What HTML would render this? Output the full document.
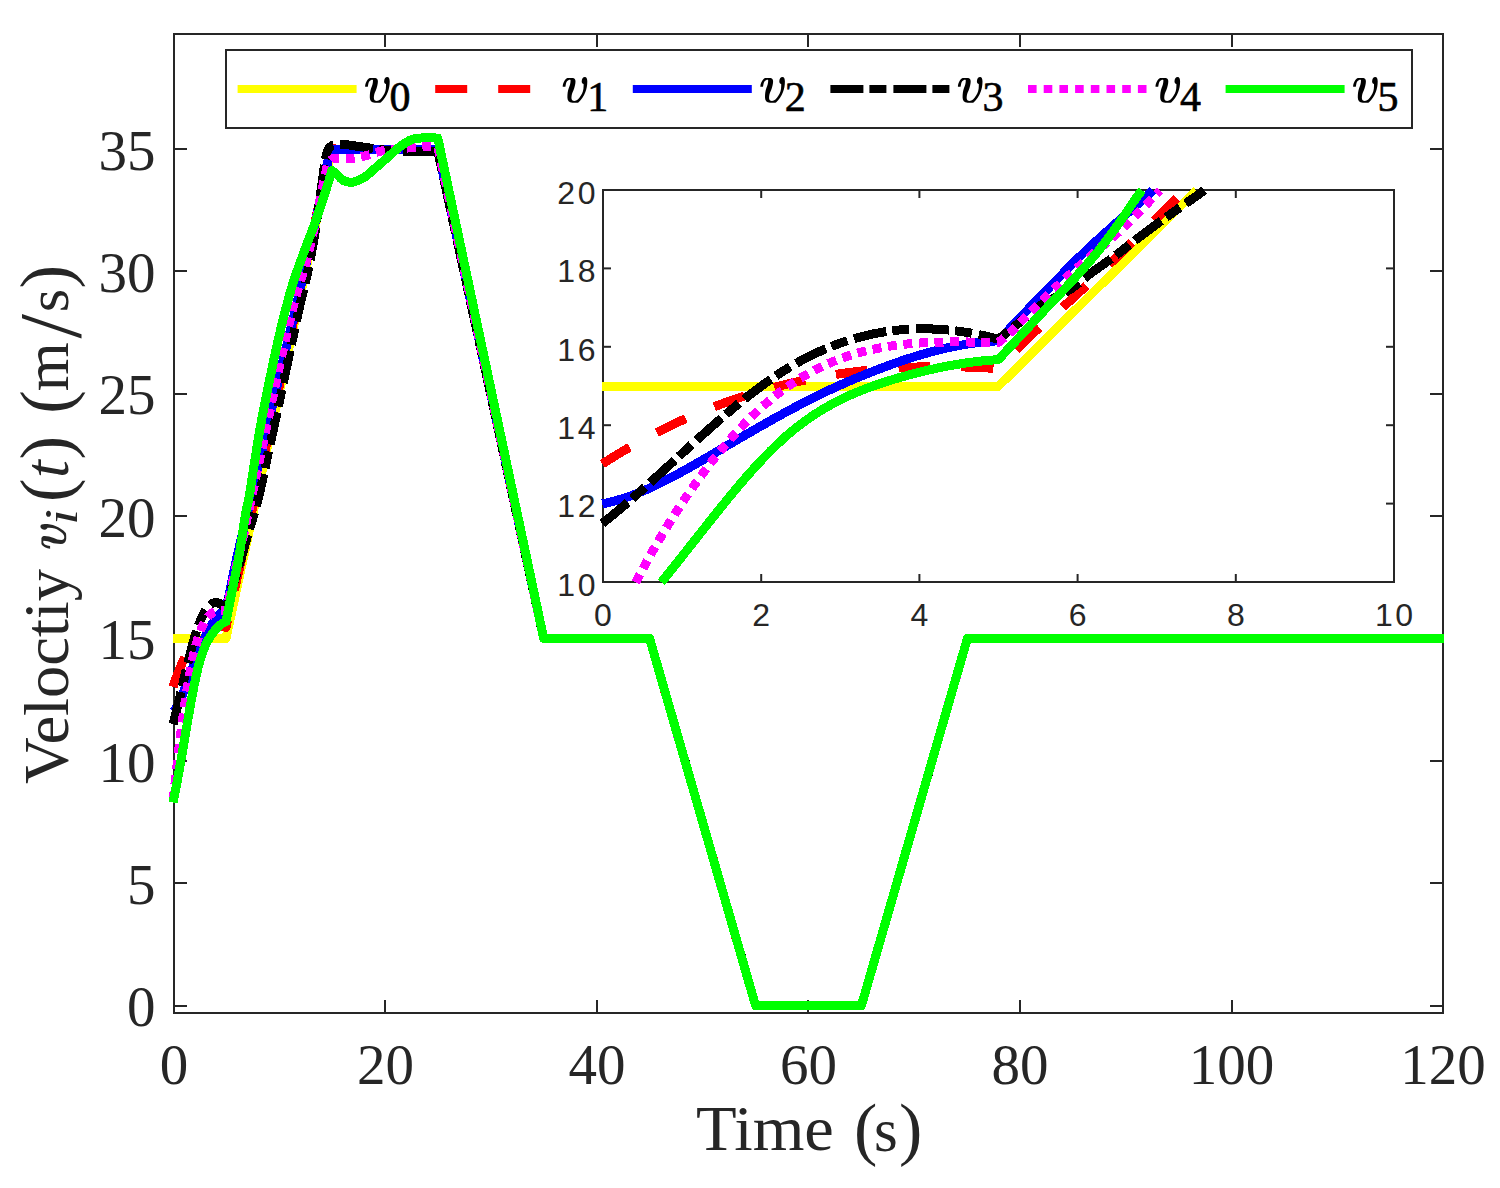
<!DOCTYPE html><html><head><meta charset="utf-8"><title>Velocity plot</title><style>html,body{margin:0;padding:0;background:#fff;}svg{display:block;}</style></head><body>
<svg width="1500" height="1188" viewBox="0 0 1500 1188">
<rect width="1500" height="1188" fill="#ffffff"/>
<g stroke="#262626" stroke-width="2" fill="none"><rect x="174" y="34" width="1269" height="979" fill="none" stroke="#262626" stroke-width="2"/>
<line x1="174.00" y1="1013" x2="174.00" y2="1000"/>
<line x1="174.00" y1="34" x2="174.00" y2="47"/>
<line x1="385.00" y1="1013" x2="385.00" y2="1000"/>
<line x1="385.00" y1="34" x2="385.00" y2="47"/>
<line x1="597.00" y1="1013" x2="597.00" y2="1000"/>
<line x1="597.00" y1="34" x2="597.00" y2="47"/>
<line x1="808.00" y1="1013" x2="808.00" y2="1000"/>
<line x1="808.00" y1="34" x2="808.00" y2="47"/>
<line x1="1020.00" y1="1013" x2="1020.00" y2="1000"/>
<line x1="1020.00" y1="34" x2="1020.00" y2="47"/>
<line x1="1232.00" y1="1013" x2="1232.00" y2="1000"/>
<line x1="1232.00" y1="34" x2="1232.00" y2="47"/>
<line x1="1443.00" y1="1013" x2="1443.00" y2="1000"/>
<line x1="1443.00" y1="34" x2="1443.00" y2="47"/>
<line x1="174" y1="1006.00" x2="187" y2="1006.00"/>
<line x1="1443" y1="1006.00" x2="1430" y2="1006.00"/>
<line x1="174" y1="883.00" x2="187" y2="883.00"/>
<line x1="1443" y1="883.00" x2="1430" y2="883.00"/>
<line x1="174" y1="761.00" x2="187" y2="761.00"/>
<line x1="1443" y1="761.00" x2="1430" y2="761.00"/>
<line x1="174" y1="638.00" x2="187" y2="638.00"/>
<line x1="1443" y1="638.00" x2="1430" y2="638.00"/>
<line x1="174" y1="516.00" x2="187" y2="516.00"/>
<line x1="1443" y1="516.00" x2="1430" y2="516.00"/>
<line x1="174" y1="394.00" x2="187" y2="394.00"/>
<line x1="1443" y1="394.00" x2="1430" y2="394.00"/>
<line x1="174" y1="271.00" x2="187" y2="271.00"/>
<line x1="1443" y1="271.00" x2="1430" y2="271.00"/>
<line x1="174" y1="149.00" x2="187" y2="149.00"/>
<line x1="1443" y1="149.00" x2="1430" y2="149.00"/></g>
<path d="M173.00 638.50 L225.96 638.50 L331.88 149.16 L437.79 149.16 L543.71 638.50 L649.62 638.50 L755.54 1005.50 L861.46 1005.50 L967.38 638.50 L1444.00 638.50" fill="none" stroke="#ffff00" stroke-width="9" stroke-linejoin="round" stroke-linecap="butt" shape-rendering="crispEdges"/>
<path d="M173.00 686.94 L173.21 686.31 L173.42 685.68 L173.64 685.05 L173.85 684.43 L174.06 683.81 L174.27 683.19 L174.48 682.58 L174.69 681.98 L174.91 681.37 L175.12 680.78 L175.33 680.18 L175.54 679.59 L175.75 679.00 L175.97 678.42 L176.18 677.84 L176.39 677.26 L176.60 676.69 L176.81 676.12 L177.02 675.56 L177.24 674.99 L177.45 674.44 L177.66 673.88 L177.87 673.33 L178.08 672.79 L178.30 672.24 L178.51 671.71 L178.72 671.17 L178.93 670.64 L179.14 670.11 L179.35 669.59 L179.57 669.07 L179.78 668.55 L179.99 668.04 L180.20 667.53 L180.41 667.02 L180.63 666.52 L180.84 666.02 L181.05 665.53 L181.26 665.04 L181.47 664.55 L181.69 664.06 L181.90 663.58 L182.11 663.11 L182.32 662.63 L182.53 662.16 L182.74 661.70 L182.96 661.23 L183.17 660.77 L183.38 660.32 L183.59 659.86 L183.80 659.42 L184.02 658.97 L184.23 658.53 L184.44 658.09 L184.65 657.65 L184.86 657.22 L185.07 656.79 L185.29 656.37 L185.50 655.95 L185.71 655.53 L185.92 655.11 L186.13 654.70 L186.35 654.30 L186.56 653.89 L186.77 653.49 L186.98 653.09 L187.19 652.70 L187.40 652.31 L187.62 651.92 L187.83 651.53 L188.04 651.15 L188.25 650.77 L188.46 650.40 L188.68 650.03 L188.89 649.66 L189.10 649.30 L189.31 648.93 L189.52 648.58 L189.73 648.22 L189.95 647.87 L190.16 647.52 L190.37 647.17 L190.58 646.83 L190.79 646.49 L191.01 646.16 L191.22 645.82 L191.43 645.49 L191.64 645.17 L191.85 644.84 L192.06 644.52 L192.28 644.21 L192.49 643.89 L192.70 643.58 L192.91 643.27 L193.12 642.97 L193.34 642.67 L193.55 642.37 L193.76 642.07 L193.97 641.78 L194.18 641.49 L194.40 641.21 L194.61 640.92 L194.82 640.64 L195.03 640.37 L195.24 640.09 L195.45 639.82 L195.67 639.55 L195.88 639.29 L196.09 639.02 L196.30 638.76 L196.51 638.51 L196.73 638.25 L196.94 638.00 L197.15 637.76 L197.36 637.51 L197.57 637.27 L197.78 637.03 L198.00 636.80 L198.21 636.56 L198.42 636.33 L198.63 636.10 L198.84 635.88 L199.06 635.66 L199.27 635.44 L199.48 635.22 L199.69 635.01 L199.90 634.80 L200.11 634.59 L200.33 634.39 L200.54 634.18 L200.75 633.99 L200.96 633.79 L201.17 633.59 L201.39 633.40 L201.60 633.22 L201.81 633.03 L202.02 632.85 L202.23 632.67 L202.44 632.49 L202.66 632.31 L202.87 632.14 L203.08 631.97 L203.29 631.81 L203.50 631.64 L203.72 631.48 L203.93 631.32 L204.14 631.17 L204.35 631.01 L204.56 630.86 L204.78 630.71 L204.99 630.57 L205.20 630.42 L205.41 630.28 L205.62 630.14 L205.83 630.01 L206.05 629.88 L206.26 629.75 L206.47 629.62 L206.68 629.49 L206.89 629.37 L207.11 629.25 L207.32 629.13 L207.53 629.02 L207.74 628.90 L207.95 628.79 L208.16 628.68 L208.38 628.58 L208.59 628.48 L208.80 628.38 L209.01 628.28 L209.22 628.18 L209.44 628.09 L209.65 628.00 L209.86 627.91 L210.07 627.82 L210.28 627.74 L210.49 627.66 L210.71 627.58 L210.92 627.50 L211.13 627.43 L211.34 627.35 L211.55 627.28 L211.77 627.22 L211.98 627.15 L212.19 627.09 L212.40 627.03 L212.61 626.97 L212.82 626.91 L213.04 626.86 L213.25 626.81 L213.46 626.76 L213.67 626.71 L213.88 626.67 L214.10 626.62 L214.31 626.58 L214.52 626.54 L214.73 626.51 L214.94 626.47 L215.15 626.44 L215.37 626.41 L215.58 626.39 L215.79 626.36 L216.00 626.34 L216.21 626.32 L216.43 626.30 L216.64 626.28 L216.85 626.27 L217.06 626.25 L217.27 626.24 L217.49 626.23 L217.70 626.23 L217.91 626.22 L218.12 626.22 L218.33 626.22 L218.54 626.22 L218.76 626.23 L218.97 626.23 L219.18 626.24 L219.39 626.25 L219.60 626.26 L219.82 626.27 L220.03 626.29 L220.24 626.31 L220.45 626.33 L220.66 626.35 L220.87 626.37 L221.09 626.40 L221.30 626.42 L221.51 626.45 L221.72 626.48 L221.93 626.52 L222.15 626.55 L222.36 626.59 L222.57 626.63 L222.78 626.67 L222.99 626.71 L223.20 626.75 L223.42 626.80 L223.63 626.84 L223.84 626.89 L224.05 626.95 L224.26 627.00 L224.48 627.05 L224.69 627.11 L224.90 627.17 L225.11 627.23 L225.32 627.29 L225.53 627.35 L225.75 627.42 L225.96 627.48 L226.17 626.41 L226.38 625.35 L226.59 624.29 L226.81 623.23 L227.02 622.18 L227.23 621.13 L227.44 620.09 L227.65 619.06 L227.86 618.04 L228.08 617.02 L228.29 616.00 L228.50 615.00 L228.71 614.00 L228.92 613.01 L229.14 612.03 L229.35 611.05 L229.56 610.09 L229.77 609.13 L229.98 608.19 L230.19 607.25 L230.41 606.33 L230.62 605.41 L230.83 604.50 L231.04 603.60 L231.25 602.71 L231.47 601.82 L231.68 600.94 L231.89 600.07 L232.10 599.20 L232.31 598.33 L232.53 597.46 L232.74 596.60 L232.95 595.74 L233.16 594.88 L233.37 594.02 L233.58 593.17 L233.80 592.31 L234.01 591.45 L234.22 590.58 L234.43 589.72 L234.64 588.85 L234.86 587.97 L235.07 587.09 L235.28 586.21 L235.49 585.32 L235.70 584.42 L235.91 583.52 L236.13 582.62 L236.34 581.72 L236.55 580.81 L236.76 579.90 L236.97 579.00 L237.19 578.09 L237.40 577.18 L237.61 576.26 L237.82 575.35 L238.03 574.43 L238.24 573.52 L238.46 572.60 L238.67 571.68 L238.88 570.76 L239.09 569.83 L239.30 568.91 L239.52 567.98 L239.73 567.05 L239.94 566.12 L240.15 565.19 L240.36 564.26 L240.57 563.32 L240.79 562.38 L241.00 561.44 L241.21 560.50 L241.42 559.56 L241.63 558.61 L241.85 557.66 L242.06 556.72 L242.27 555.76 L242.48 554.81 L242.69 553.86 L242.91 552.90 L243.12 551.94 L243.33 550.98 L243.54 550.02 L243.75 549.06 L243.96 548.10 L244.18 547.13 L244.39 546.17 L244.60 545.20 L244.81 544.23 L245.02 543.26 L245.24 542.29 L245.45 541.32 L245.66 540.35 L245.87 539.38 L246.08 538.40 L246.29 537.43 L246.51 536.45 L246.72 535.48 L246.93 534.50 L247.14 533.53 L247.35 532.55 L247.57 531.57 L247.78 530.59 L247.99 529.62 L248.20 528.64 L248.41 527.66 L248.62 526.67 L248.84 525.68 L249.05 524.70 L249.26 523.71 L249.47 522.71 L249.68 521.72 L249.90 520.73 L250.11 519.73 L250.32 518.74 L250.53 517.74 L250.74 516.75 L250.95 515.75 L251.17 514.76 L251.38 513.77 L251.59 512.77 L251.80 511.78 L252.01 510.79 L252.23 509.81 L252.44 508.82 L252.65 507.84 L252.86 506.85 L253.07 505.87 L253.28 504.89 L253.50 503.90 L253.71 502.92 L253.92 501.94 L254.13 500.96 L254.34 499.98 L254.56 499.00 L254.77 498.02 L254.98 497.04 L255.19 496.06 L255.40 495.09 L255.62 494.11 L255.83 493.13 L256.04 492.15 L256.25 491.18 L256.46 490.20 L256.67 489.23 L256.89 488.25 L257.10 487.28 L257.31 486.30 L257.52 485.33 L257.73 484.35 L257.95 483.38 L258.16 482.41 L258.37 481.43 L258.58 480.46 L258.79 479.49 L259.00 478.52 L259.22 477.54 L259.43 476.57 L259.64 475.60 L259.85 474.63 L260.06 473.66 L260.28 472.69 L260.49 471.72 L260.70 470.75 L260.91 469.78 L261.12 468.81 L261.33 467.84 L261.55 466.87 L261.76 465.90 L261.97 464.93 L262.18 463.96 L262.39 462.99 L262.61 462.03 L262.82 461.06 L263.03 460.09 L263.24 459.12 L263.45 458.15 L263.66 457.19 L263.88 456.22 L264.09 455.25 L264.30 454.29 L264.51 453.32 L264.72 452.35 L264.94 451.39 L265.15 450.42 L265.36 449.45 L265.57 448.49 L265.78 447.52 L265.99 446.56 L266.21 445.59 L266.42 444.62 L266.63 443.66 L266.84 442.69 L267.05 441.73 L267.27 440.76 L267.48 439.80 L267.69 438.83 L267.90 437.87 L268.11 436.90 L268.32 435.94 L268.54 434.97 L268.75 434.01 L268.96 433.05 L269.17 432.08 L269.38 431.12 L269.60 430.15 L269.81 429.19 L270.02 428.22 L270.23 427.26 L270.44 426.30 L270.66 425.33 L270.87 424.37 L271.08 423.40 L271.29 422.44 L271.50 421.48 L271.71 420.51 L271.93 419.55 L272.14 418.58 L272.35 417.62 L272.56 416.66 L272.77 415.69 L272.99 414.73 L273.20 413.76 L273.41 412.80 L273.62 411.84 L273.83 410.87 L274.04 409.91 L274.26 408.94 L274.47 407.98 L274.68 407.01 L274.89 406.05 L275.10 405.08 L275.32 404.12 L275.53 403.16 L275.74 402.19 L275.95 401.23 L276.16 400.26 L276.37 399.30 L276.59 398.33 L276.80 397.37 L277.01 396.40 L277.22 395.44 L277.43 394.47 L277.65 393.50 L277.86 392.54 L278.07 391.57 L278.28 390.61 L278.49 389.64 L278.70 388.67 L278.92 387.71 L279.13 386.74 L279.34 385.78 L279.55 384.81 L279.76 383.84 L279.98 382.88 L280.19 381.91 L280.40 380.95 L280.61 379.98 L280.82 379.01 L281.03 378.05 L281.25 377.08 L281.46 376.12 L281.67 375.15 L281.88 374.19 L282.09 373.22 L282.31 372.26 L282.52 371.29 L282.73 370.33 L282.94 369.36 L283.15 368.40 L283.37 367.44 L283.58 366.47 L283.79 365.51 L284.00 364.54 L284.21 363.58 L284.42 362.61 L284.64 361.65 L284.85 360.68 L285.06 359.72 L285.27 358.75 L285.48 357.79 L285.70 356.83 L285.91 355.86 L286.12 354.90 L286.33 353.93 L286.54 352.97 L286.75 352.00 L286.97 351.04 L287.18 350.08 L287.39 349.11 L287.60 348.15 L287.81 347.18 L288.03 346.22 L288.24 345.25 L288.45 344.29 L288.66 343.32 L288.87 342.36 L289.08 341.40 L289.30 340.43 L289.51 339.47 L289.72 338.50 L289.93 337.54 L290.14 336.57 L290.36 335.61 L290.57 334.64 L290.78 333.68 L290.99 332.71 L291.20 331.74 L291.41 330.78 L291.63 329.81 L291.84 328.85 L292.05 327.88 L292.26 326.92 L292.47 325.95 L292.69 324.98 L292.90 324.02 L293.11 323.05 L293.32 322.08 L293.53 321.12 L293.75 320.15 L293.96 319.18 L294.17 318.22 L294.38 317.25 L294.59 316.28 L294.80 315.31 L295.02 314.35 L295.23 313.38 L295.44 312.41 L295.65 311.44 L295.86 310.47 L296.08 309.51 L296.29 308.54 L296.50 307.57 L296.71 306.60 L296.92 305.63 L297.13 304.66 L297.35 303.69 L297.56 302.72 L297.77 301.75 L297.98 300.78 L298.19 299.81 L298.41 298.84 L298.62 297.87 L298.83 296.90 L299.04 295.92 L299.25 294.95 L299.46 293.98 L299.68 293.01 L299.89 292.04 L300.10 291.06 L300.31 290.09 L300.52 289.12 L300.74 288.14 L300.95 287.17 L301.16 286.20 L301.37 285.22 L301.58 284.25 L301.79 283.27 L302.01 282.30 L302.22 281.32 L302.43 280.35 L302.64 279.37 L302.85 278.39 L303.07 277.42 L303.28 276.44 L303.49 275.46 L303.70 274.49 L303.91 273.51 L304.12 272.53 L304.34 271.55 L304.55 270.58 L304.76 269.60 L304.97 268.62 L305.18 267.64 L305.40 266.66 L305.61 265.68 L305.82 264.70 L306.03 263.73 L306.24 262.75 L306.46 261.77 L306.67 260.79 L306.88 259.81 L307.09 258.83 L307.30 257.85 L307.51 256.87 L307.73 255.89 L307.94 254.91 L308.15 253.93 L308.36 252.95 L308.57 251.97 L308.79 250.99 L309.00 250.01 L309.21 249.03 L309.42 248.05 L309.63 247.07 L309.84 246.08 L310.06 245.10 L310.27 244.12 L310.48 243.14 L310.69 242.16 L310.90 241.18 L311.12 240.20 L311.33 239.22 L311.54 238.24 L311.75 237.26 L311.96 236.28 L312.17 235.30 L312.39 234.32 L312.60 233.34 L312.81 232.36 L313.02 231.38 L313.23 230.40 L313.45 229.42 L313.66 228.44 L313.87 227.46 L314.08 226.48 L314.29 225.50 L314.50 224.52 L314.72 223.54 L314.93 222.56 L315.14 221.58 L315.35 220.60 L315.56 219.62 L315.78 218.64 L315.99 217.66 L316.20 216.69 L316.41 215.71 L316.62 214.75 L316.83 213.78 L317.05 212.82 L317.26 211.86 L317.47 210.91 L317.68 209.95 L317.89 209.00 L318.11 208.05 L318.32 207.10 L318.53 206.16 L318.74 205.21 L318.95 204.26 L319.17 203.31 L319.38 202.37 L319.59 201.42 L319.80 200.47 L320.01 199.51 L320.22 198.56 L320.44 197.60 L320.65 196.64 L320.86 195.68 L321.07 194.72 L321.28 193.75 L321.50 192.77 L321.71 191.80 L321.92 190.81 L322.13 189.82 L322.34 188.83 L322.55 187.83 L322.77 186.83 L322.98 185.81 L323.19 184.80 L323.40 183.77 L323.61 182.74 L323.83 181.69 L324.04 180.64 L324.25 179.58 L324.46 178.52 L324.67 177.41 L324.88 176.26 L325.10 175.06 L325.31 173.82 L325.52 172.55 L325.73 171.25 L325.94 169.95 L326.16 168.64 L326.37 167.32 L326.58 166.02 L326.79 164.74 L327.00 163.48 L327.21 162.26 L327.43 161.07 L327.64 159.94 L327.85 158.86 L328.06 157.84 L328.27 156.90 L328.49 156.04 L328.70 155.27 L328.91 154.53 L329.12 153.78 L329.33 153.02 L329.54 152.28 L329.76 151.56 L329.97 150.88 L330.18 150.25 L330.39 149.69 L330.60 149.22 L330.82 148.84 L331.03 148.58 L331.24 148.44 L331.45 148.42 L331.66 148.43 L331.88 148.44 L332.09 148.45 L332.30 148.47 L332.51 148.49 L332.72 148.52 L332.93 148.54 L333.15 148.57 L333.36 148.61 L333.57 148.64 L333.78 148.68 L333.99 148.72 L334.21 148.75 L334.42 148.79 L334.63 148.83 L334.84 148.87 L335.05 148.90 L335.26 148.94 L335.48 148.98 L335.69 149.01 L335.90 149.04 L336.11 149.07 L336.32 149.09 L336.54 149.11 L336.75 149.13 L336.96 149.15 L337.17 149.16 L337.38 149.16 L337.59 149.17 L337.81 149.18 L338.02 149.18 L338.23 149.19 L338.44 149.20 L338.65 149.21 L338.87 149.21 L339.08 149.22 L339.29 149.23 L339.50 149.23 L339.71 149.24 L339.92 149.25 L340.14 149.25 L340.35 149.26 L340.56 149.27 L340.77 149.27 L340.98 149.28 L341.20 149.29 L341.41 149.29 L341.62 149.30 L341.83 149.31 L342.04 149.31 L342.25 149.32 L342.47 149.32 L342.68 149.33 L342.89 149.34 L343.10 149.34 L343.31 149.35 L343.53 149.36 L343.74 149.36 L343.95 149.37 L344.16 149.37 L344.37 149.38 L344.59 149.39 L344.80 149.39 L345.01 149.40 L345.22 149.40 L345.43 149.41 L345.64 149.41 L345.86 149.42 L346.07 149.43 L346.28 149.43 L346.49 149.44 L346.70 149.44 L346.92 149.45 L347.13 149.45 L347.34 149.46 L347.55 149.46 L347.76 149.47 L347.97 149.47 L348.19 149.48 L348.40 149.48 L348.61 149.49 L348.82 149.49 L349.03 149.50 L349.25 149.50 L349.46 149.51 L349.67 149.51 L349.88 149.52 L350.09 149.52 L350.30 149.53 L350.52 149.53 L350.73 149.54 L350.94 149.54 L351.15 149.55 L351.36 149.55 L351.58 149.56 L351.79 149.56 L352.00 149.57 L352.21 149.57 L352.42 149.58 L352.63 149.58 L352.85 149.58 L353.06 149.59 L353.27 149.59 L353.48 149.60 L353.69 149.60 L353.91 149.61 L354.12 149.61 L354.33 149.61 L354.54 149.62 L354.75 149.62 L354.96 149.63 L355.18 149.63 L355.39 149.63 L355.60 149.64 L355.81 149.64 L356.02 149.65 L356.24 149.65 L356.45 149.65 L356.66 149.66 L356.87 149.66 L357.08 149.67 L357.29 149.67 L357.51 149.67 L357.72 149.68 L357.93 149.68 L358.14 149.68 L358.35 149.69 L358.57 149.69 L358.78 149.69 L358.99 149.70 L359.20 149.70 L359.41 149.70 L359.63 149.71 L359.84 149.71 L360.05 149.71 L360.26 149.72 L360.47 149.72 L360.68 149.72 L360.90 149.73 L361.11 149.73 L361.32 149.73 L361.53 149.73 L361.74 149.74 L361.96 149.74 L362.17 149.74 L362.38 149.75 L362.59 149.75 L362.80 149.75 L363.01 149.76 L363.23 149.76 L363.44 149.76 L363.65 149.76 L363.86 149.77 L364.07 149.77 L364.29 149.77 L364.50 149.77 L364.71 149.78 L364.92 149.78 L365.13 149.78 L365.34 149.78 L365.56 149.79 L365.77 149.79 L365.98 149.79 L366.19 149.79 L366.40 149.80 L366.62 149.80 L366.83 149.80 L367.04 149.80 L367.25 149.80 L367.46 149.81 L367.67 149.81 L367.89 149.81 L368.10 149.81 L368.31 149.81 L368.52 149.82 L368.73 149.82 L368.95 149.82 L369.16 149.82 L369.37 149.82 L369.58 149.83 L369.79 149.83 L370.00 149.83 L370.22 149.83 L370.43 149.83 L370.64 149.83 L370.85 149.84 L371.06 149.84 L371.28 149.84 L371.49 149.84 L371.70 149.84 L371.91 149.84 L372.12 149.85 L372.34 149.85 L372.55 149.85 L372.76 149.85 L372.97 149.85 L373.18 149.85 L373.39 149.85 L373.61 149.86 L373.82 149.86 L374.03 149.86 L374.24 149.86 L374.45 149.86 L374.67 149.86 L374.88 149.86 L375.09 149.86 L375.30 149.87 L375.51 149.87 L375.72 149.87 L375.94 149.87 L376.15 149.87 L376.36 149.87 L376.57 149.87 L376.78 149.87 L377.00 149.87 L377.21 149.87 L377.42 149.87 L377.63 149.88 L377.84 149.88 L378.05 149.88 L378.27 149.88 L378.48 149.88 L378.69 149.88 L378.90 149.88 L379.11 149.88 L379.33 149.88 L379.54 149.88 L379.75 149.88 L379.96 149.88 L380.17 149.88 L380.38 149.88 L380.60 149.88 L380.81 149.88 L381.02 149.89 L381.23 149.89 L381.44 149.89 L381.66 149.89 L381.87 149.89 L382.08 149.89 L382.29 149.89 L382.50 149.89 L382.72 149.89 L382.93 149.89 L383.14 149.89 L383.35 149.89 L383.56 149.89 L383.77 149.89 L383.99 149.89 L384.20 149.89 L384.41 149.89 L384.62 149.89 L384.83 149.89 L385.05 149.89 L385.26 149.89 L385.47 149.89 L385.68 149.89 L385.89 149.89 L386.10 149.89 L386.32 149.89 L386.53 149.89 L386.74 149.89 L386.95 149.89 L387.16 149.89 L387.38 149.89 L387.59 149.89 L387.80 149.89 L388.01 149.89 L388.22 149.89 L388.43 149.89 L388.65 149.89 L388.86 149.89 L389.07 149.89 L389.28 149.89 L389.49 149.89 L389.71 149.89 L389.92 149.89 L390.13 149.89 L390.34 149.89 L390.55 149.89 L390.76 149.89 L390.98 149.89 L391.19 149.89 L391.40 149.89 L391.61 149.89 L391.82 149.89 L392.04 149.89 L392.25 149.89 L392.46 149.89 L392.67 149.89 L392.88 149.89 L393.09 149.89 L393.31 149.89 L393.52 149.89 L393.73 149.89 L393.94 149.89 L394.15 149.89 L394.37 149.89 L394.58 149.89 L394.79 149.89 L395.00 149.89 L395.21 149.89 L395.43 149.89 L395.64 149.89 L395.85 149.89 L396.06 149.89 L396.27 149.89 L396.48 149.89 L396.70 149.89 L396.91 149.89 L397.12 149.89 L397.33 149.89 L397.54 149.89 L397.76 149.89 L397.97 149.89 L398.18 149.89 L398.39 149.89 L398.60 149.89 L398.81 149.89 L399.03 149.89 L399.24 149.89 L399.45 149.89 L399.66 149.89 L399.87 149.89 L400.09 149.89 L400.30 149.89 L400.51 149.89 L400.72 149.89 L400.93 149.89 L401.14 149.89 L401.36 149.89 L401.57 149.89 L401.78 149.89 L401.99 149.89 L402.20 149.89 L402.42 149.89 L402.63 149.89 L402.84 149.89 L403.05 149.89 L403.26 149.89 L403.47 149.89 L403.69 149.89 L403.90 149.89 L404.11 149.89 L404.32 149.89 L404.53 149.89 L404.75 149.89 L404.96 149.89 L405.17 149.89 L405.38 149.89 L405.59 149.89 L405.80 149.89 L406.02 149.89 L406.23 149.89 L406.44 149.89 L406.65 149.89 L406.86 149.89 L407.08 149.89 L407.29 149.89 L407.50 149.89 L407.71 149.89 L407.92 149.89 L408.13 149.89 L408.35 149.89 L408.56 149.89 L408.77 149.89 L408.98 149.89 L409.19 149.89 L409.41 149.89 L409.62 149.89 L409.83 149.89 L410.04 149.89 L410.25 149.89 L410.47 149.89 L410.68 149.89 L410.89 149.89 L411.10 149.89 L411.31 149.89 L411.52 149.89 L411.74 149.89 L411.95 149.89 L412.16 149.89 L412.37 149.89 L412.58 149.89 L412.80 149.89 L413.01 149.89 L413.22 149.89 L413.43 149.89 L413.64 149.89 L413.85 149.89 L414.07 149.89 L414.28 149.89 L414.49 149.89 L414.70 149.89 L414.91 149.89 L415.13 149.89 L415.34 149.89 L415.55 149.89 L415.76 149.89 L415.97 149.89 L416.18 149.89 L416.40 149.89 L416.61 149.89 L416.82 149.89 L417.03 149.89 L417.24 149.89 L417.46 149.89 L417.67 149.89 L417.88 149.89 L418.09 149.89 L418.30 149.89 L418.51 149.89 L418.73 149.89 L418.94 149.89 L419.15 149.89 L419.36 149.89 L419.57 149.89 L419.79 149.89 L420.00 149.89 L420.21 149.89 L420.42 149.89 L420.63 149.89 L420.85 149.89 L421.06 149.89 L421.27 149.89 L421.48 149.89 L421.69 149.89 L421.90 149.89 L422.12 149.89 L422.33 149.89 L422.54 149.89 L422.75 149.89 L422.96 149.89 L423.18 149.89 L423.39 149.89 L423.60 149.89 L423.81 149.89 L424.02 149.89 L424.23 149.89 L424.45 149.89 L424.66 149.89 L424.87 149.89 L425.08 149.89 L425.29 149.89 L425.51 149.89 L425.72 149.89 L425.93 149.89 L426.14 149.89 L426.35 149.89 L426.56 149.89 L426.78 149.89 L426.99 149.89 L427.20 149.89 L427.41 149.89 L427.62 149.89 L427.84 149.89 L428.05 149.89 L428.26 149.89 L428.47 149.89 L428.68 149.89 L428.89 149.89 L429.11 149.89 L429.32 149.89 L429.53 149.89 L429.74 149.89 L429.95 149.89 L430.17 149.89 L430.38 149.89 L430.59 149.89 L430.80 149.89 L431.01 149.89 L431.22 149.89 L431.44 149.89 L431.65 149.89 L431.86 149.89 L432.07 149.89 L432.28 149.89 L432.50 149.89 L432.71 149.89 L432.92 149.89 L433.13 149.89 L433.34 149.89 L433.56 149.89 L433.77 149.89 L433.98 149.89 L434.19 149.89 L434.40 149.89 L434.61 149.89 L434.83 149.89 L435.04 149.89 L435.25 149.89 L435.46 149.89 L435.67 149.89 L435.89 149.89 L436.10 149.89 L436.31 149.89 L436.52 149.89 L436.73 149.89 L436.94 149.89 L437.16 149.89 L437.37 149.89 L437.58 149.89 L437.79 149.89 L543.71 638.50 L649.62 638.50 L755.54 1005.50 L861.46 1005.50 L967.38 638.50 L1444.00 638.50" fill="none" stroke="#ff0000" stroke-width="9" stroke-linejoin="round" stroke-linecap="butt" stroke-dasharray="32 31" shape-rendering="crispEdges"/>
<path d="M173.00 711.90 L173.21 711.70 L173.42 711.49 L173.64 711.28 L173.85 711.05 L174.06 710.81 L174.27 710.56 L174.48 710.30 L174.69 710.04 L174.91 709.76 L175.12 709.47 L175.33 709.18 L175.54 708.87 L175.75 708.56 L175.97 708.23 L176.18 707.90 L176.39 707.56 L176.60 707.21 L176.81 706.85 L177.02 706.49 L177.24 706.12 L177.45 705.74 L177.66 705.35 L177.87 704.95 L178.08 704.55 L178.30 704.14 L178.51 703.72 L178.72 703.29 L178.93 702.86 L179.14 702.42 L179.35 701.98 L179.57 701.53 L179.78 701.07 L179.99 700.61 L180.20 700.14 L180.41 699.67 L180.63 699.19 L180.84 698.70 L181.05 698.21 L181.26 697.71 L181.47 697.21 L181.69 696.71 L181.90 696.20 L182.11 695.68 L182.32 695.16 L182.53 694.64 L182.74 694.11 L182.96 693.58 L183.17 693.05 L183.38 692.51 L183.59 691.97 L183.80 691.42 L184.02 690.87 L184.23 690.32 L184.44 689.77 L184.65 689.21 L184.86 688.65 L185.07 688.09 L185.29 687.53 L185.50 686.96 L185.71 686.40 L185.92 685.83 L186.13 685.26 L186.35 684.68 L186.56 684.11 L186.77 683.53 L186.98 682.96 L187.19 682.38 L187.40 681.80 L187.62 681.23 L187.83 680.65 L188.04 680.07 L188.25 679.49 L188.46 678.91 L188.68 678.33 L188.89 677.75 L189.10 677.17 L189.31 676.60 L189.52 676.02 L189.73 675.44 L189.95 674.86 L190.16 674.28 L190.37 673.70 L190.58 673.13 L190.79 672.55 L191.01 671.97 L191.22 671.40 L191.43 670.82 L191.64 670.24 L191.85 669.67 L192.06 669.10 L192.28 668.52 L192.49 667.95 L192.70 667.38 L192.91 666.81 L193.12 666.24 L193.34 665.67 L193.55 665.10 L193.76 664.54 L193.97 663.97 L194.18 663.41 L194.40 662.85 L194.61 662.28 L194.82 661.72 L195.03 661.17 L195.24 660.61 L195.45 660.05 L195.67 659.50 L195.88 658.95 L196.09 658.39 L196.30 657.84 L196.51 657.30 L196.73 656.75 L196.94 656.21 L197.15 655.67 L197.36 655.13 L197.57 654.59 L197.78 654.05 L198.00 653.52 L198.21 652.99 L198.42 652.46 L198.63 651.93 L198.84 651.40 L199.06 650.88 L199.27 650.36 L199.48 649.84 L199.69 649.33 L199.90 648.82 L200.11 648.31 L200.33 647.80 L200.54 647.29 L200.75 646.79 L200.96 646.29 L201.17 645.80 L201.39 645.30 L201.60 644.81 L201.81 644.32 L202.02 643.84 L202.23 643.36 L202.44 642.88 L202.66 642.40 L202.87 641.93 L203.08 641.46 L203.29 641.00 L203.50 640.54 L203.72 640.08 L203.93 639.62 L204.14 639.17 L204.35 638.72 L204.56 638.27 L204.78 637.83 L204.99 637.38 L205.20 636.95 L205.41 636.51 L205.62 636.08 L205.83 635.65 L206.05 635.22 L206.26 634.80 L206.47 634.38 L206.68 633.96 L206.89 633.54 L207.11 633.13 L207.32 632.72 L207.53 632.31 L207.74 631.91 L207.95 631.50 L208.16 631.10 L208.38 630.70 L208.59 630.31 L208.80 629.92 L209.01 629.53 L209.22 629.14 L209.44 628.75 L209.65 628.37 L209.86 627.99 L210.07 627.61 L210.28 627.24 L210.49 626.86 L210.71 626.49 L210.92 626.13 L211.13 625.76 L211.34 625.40 L211.55 625.04 L211.77 624.68 L211.98 624.33 L212.19 623.98 L212.40 623.63 L212.61 623.29 L212.82 622.95 L213.04 622.61 L213.25 622.28 L213.46 621.94 L213.67 621.62 L213.88 621.29 L214.10 620.97 L214.31 620.66 L214.52 620.34 L214.73 620.03 L214.94 619.73 L215.15 619.43 L215.37 619.13 L215.58 618.84 L215.79 618.55 L216.00 618.26 L216.21 617.98 L216.43 617.70 L216.64 617.43 L216.85 617.16 L217.06 616.90 L217.27 616.64 L217.49 616.38 L217.70 616.13 L217.91 615.88 L218.12 615.64 L218.33 615.40 L218.54 615.17 L218.76 614.94 L218.97 614.72 L219.18 614.50 L219.39 614.29 L219.60 614.08 L219.82 613.87 L220.03 613.67 L220.24 613.47 L220.45 613.28 L220.66 613.10 L220.87 612.92 L221.09 612.74 L221.30 612.57 L221.51 612.40 L221.72 612.24 L221.93 612.09 L222.15 611.93 L222.36 611.79 L222.57 611.65 L222.78 611.51 L222.99 611.38 L223.20 611.26 L223.42 611.14 L223.63 611.02 L223.84 610.91 L224.05 610.81 L224.26 610.71 L224.48 610.61 L224.69 610.53 L224.90 610.44 L225.11 610.37 L225.32 610.29 L225.53 610.23 L225.75 610.17 L225.96 610.11 L226.17 609.05 L226.38 608.00 L226.59 606.94 L226.81 605.89 L227.02 604.83 L227.23 603.78 L227.44 602.73 L227.65 601.68 L227.86 600.63 L228.08 599.59 L228.29 598.54 L228.50 597.50 L228.71 596.46 L228.92 595.42 L229.14 594.38 L229.35 593.34 L229.56 592.31 L229.77 591.27 L229.98 590.24 L230.19 589.21 L230.41 588.18 L230.62 587.15 L230.83 586.12 L231.04 585.10 L231.25 584.07 L231.47 583.05 L231.68 582.03 L231.89 581.01 L232.10 579.99 L232.31 578.97 L232.53 577.96 L232.74 576.95 L232.95 575.93 L233.16 574.92 L233.37 573.92 L233.58 572.91 L233.80 571.90 L234.01 570.89 L234.22 569.88 L234.43 568.87 L234.64 567.86 L234.86 566.86 L235.07 565.85 L235.28 564.85 L235.49 563.85 L235.70 562.85 L235.91 561.86 L236.13 560.88 L236.34 559.89 L236.55 558.92 L236.76 557.95 L236.97 556.99 L237.19 556.04 L237.40 555.10 L237.61 554.16 L237.82 553.22 L238.03 552.29 L238.24 551.37 L238.46 550.44 L238.67 549.53 L238.88 548.61 L239.09 547.70 L239.30 546.80 L239.52 545.89 L239.73 545.00 L239.94 544.10 L240.15 543.20 L240.36 542.31 L240.57 541.42 L240.79 540.54 L241.00 539.65 L241.21 538.77 L241.42 537.89 L241.63 537.01 L241.85 536.13 L242.06 535.26 L242.27 534.38 L242.48 533.51 L242.69 532.63 L242.91 531.76 L243.12 530.88 L243.33 530.01 L243.54 529.13 L243.75 528.26 L243.96 527.39 L244.18 526.51 L244.39 525.63 L244.60 524.76 L244.81 523.88 L245.02 523.00 L245.24 522.11 L245.45 521.23 L245.66 520.34 L245.87 519.46 L246.08 518.56 L246.29 517.67 L246.51 516.78 L246.72 515.88 L246.93 514.97 L247.14 514.07 L247.35 513.17 L247.57 512.26 L247.78 511.36 L247.99 510.45 L248.20 509.54 L248.41 508.64 L248.62 507.73 L248.84 506.82 L249.05 505.91 L249.26 505.00 L249.47 504.09 L249.68 503.18 L249.90 502.26 L250.11 501.35 L250.32 500.44 L250.53 499.53 L250.74 498.61 L250.95 497.70 L251.17 496.78 L251.38 495.87 L251.59 494.95 L251.80 494.04 L252.01 493.12 L252.23 492.21 L252.44 491.29 L252.65 490.38 L252.86 489.46 L253.07 488.55 L253.28 487.63 L253.50 486.71 L253.71 485.80 L253.92 484.88 L254.13 483.97 L254.34 483.05 L254.56 482.14 L254.77 481.22 L254.98 480.31 L255.19 479.39 L255.40 478.48 L255.62 477.56 L255.83 476.65 L256.04 475.74 L256.25 474.82 L256.46 473.91 L256.67 473.00 L256.89 472.09 L257.10 471.18 L257.31 470.27 L257.52 469.36 L257.73 468.45 L257.95 467.54 L258.16 466.63 L258.37 465.72 L258.58 464.82 L258.79 463.91 L259.00 463.00 L259.22 462.09 L259.43 461.19 L259.64 460.28 L259.85 459.37 L260.06 458.47 L260.28 457.56 L260.49 456.66 L260.70 455.75 L260.91 454.85 L261.12 453.94 L261.33 453.03 L261.55 452.13 L261.76 451.22 L261.97 450.32 L262.18 449.41 L262.39 448.51 L262.61 447.61 L262.82 446.70 L263.03 445.80 L263.24 444.89 L263.45 443.99 L263.66 443.08 L263.88 442.18 L264.09 441.27 L264.30 440.37 L264.51 439.47 L264.72 438.56 L264.94 437.66 L265.15 436.75 L265.36 435.85 L265.57 434.95 L265.78 434.04 L265.99 433.14 L266.21 432.23 L266.42 431.33 L266.63 430.42 L266.84 429.52 L267.05 428.61 L267.27 427.71 L267.48 426.81 L267.69 425.90 L267.90 425.00 L268.11 424.09 L268.32 423.19 L268.54 422.28 L268.75 421.37 L268.96 420.47 L269.17 419.56 L269.38 418.65 L269.60 417.75 L269.81 416.84 L270.02 415.93 L270.23 415.02 L270.44 414.11 L270.66 413.20 L270.87 412.29 L271.08 411.39 L271.29 410.48 L271.50 409.57 L271.71 408.66 L271.93 407.75 L272.14 406.84 L272.35 405.93 L272.56 405.02 L272.77 404.11 L272.99 403.20 L273.20 402.29 L273.41 401.38 L273.62 400.48 L273.83 399.57 L274.04 398.66 L274.26 397.75 L274.47 396.84 L274.68 395.94 L274.89 395.03 L275.10 394.13 L275.32 393.22 L275.53 392.31 L275.74 391.41 L275.95 390.51 L276.16 389.60 L276.37 388.70 L276.59 387.80 L276.80 386.89 L277.01 385.99 L277.22 385.09 L277.43 384.19 L277.65 383.30 L277.86 382.40 L278.07 381.50 L278.28 380.60 L278.49 379.71 L278.70 378.81 L278.92 377.92 L279.13 377.03 L279.34 376.14 L279.55 375.25 L279.76 374.36 L279.98 373.47 L280.19 372.58 L280.40 371.69 L280.61 370.81 L280.82 369.92 L281.03 369.04 L281.25 368.15 L281.46 367.27 L281.67 366.38 L281.88 365.50 L282.09 364.62 L282.31 363.74 L282.52 362.86 L282.73 361.98 L282.94 361.10 L283.15 360.22 L283.37 359.34 L283.58 358.46 L283.79 357.58 L284.00 356.70 L284.21 355.83 L284.42 354.95 L284.64 354.07 L284.85 353.19 L285.06 352.32 L285.27 351.44 L285.48 350.56 L285.70 349.69 L285.91 348.81 L286.12 347.93 L286.33 347.06 L286.54 346.18 L286.75 345.30 L286.97 344.42 L287.18 343.55 L287.39 342.67 L287.60 341.79 L287.81 340.91 L288.03 340.04 L288.24 339.16 L288.45 338.28 L288.66 337.40 L288.87 336.52 L289.08 335.64 L289.30 334.76 L289.51 333.88 L289.72 333.00 L289.93 332.12 L290.14 331.24 L290.36 330.36 L290.57 329.49 L290.78 328.61 L290.99 327.74 L291.20 326.86 L291.41 325.99 L291.63 325.11 L291.84 324.24 L292.05 323.36 L292.26 322.49 L292.47 321.62 L292.69 320.74 L292.90 319.87 L293.11 319.00 L293.32 318.12 L293.53 317.25 L293.75 316.38 L293.96 315.51 L294.17 314.63 L294.38 313.76 L294.59 312.88 L294.80 312.01 L295.02 311.13 L295.23 310.26 L295.44 309.38 L295.65 308.51 L295.86 307.63 L296.08 306.75 L296.29 305.87 L296.50 304.99 L296.71 304.11 L296.92 303.23 L297.13 302.34 L297.35 301.46 L297.56 300.57 L297.77 299.69 L297.98 298.80 L298.19 297.91 L298.41 297.02 L298.62 296.13 L298.83 295.24 L299.04 294.34 L299.25 293.44 L299.46 292.55 L299.68 291.65 L299.89 290.74 L300.10 289.84 L300.31 288.94 L300.52 288.03 L300.74 287.12 L300.95 286.21 L301.16 285.30 L301.37 284.39 L301.58 283.48 L301.79 282.57 L302.01 281.66 L302.22 280.75 L302.43 279.83 L302.64 278.91 L302.85 278.00 L303.07 277.08 L303.28 276.16 L303.49 275.24 L303.70 274.32 L303.91 273.40 L304.12 272.47 L304.34 271.55 L304.55 270.63 L304.76 269.70 L304.97 268.77 L305.18 267.84 L305.40 266.92 L305.61 265.99 L305.82 265.05 L306.03 264.12 L306.24 263.19 L306.46 262.25 L306.67 261.32 L306.88 260.38 L307.09 259.45 L307.30 258.51 L307.51 257.57 L307.73 256.63 L307.94 255.69 L308.15 254.74 L308.36 253.80 L308.57 252.86 L308.79 251.91 L309.00 250.96 L309.21 250.02 L309.42 249.07 L309.63 248.12 L309.84 247.17 L310.06 246.22 L310.27 245.26 L310.48 244.31 L310.69 243.35 L310.90 242.40 L311.12 241.44 L311.33 240.49 L311.54 239.53 L311.75 238.57 L311.96 237.62 L312.17 236.66 L312.39 235.70 L312.60 234.74 L312.81 233.78 L313.02 232.81 L313.23 231.85 L313.45 230.88 L313.66 229.91 L313.87 228.94 L314.08 227.97 L314.29 226.99 L314.50 226.01 L314.72 225.03 L314.93 224.04 L315.14 223.06 L315.35 222.06 L315.56 221.07 L315.78 220.07 L315.99 219.07 L316.20 218.06 L316.41 217.05 L316.62 216.04 L316.83 215.02 L317.05 213.99 L317.26 212.96 L317.47 211.92 L317.68 210.87 L317.89 209.81 L318.11 208.74 L318.32 207.67 L318.53 206.59 L318.74 205.51 L318.95 204.42 L319.17 203.33 L319.38 202.23 L319.59 201.14 L319.80 200.04 L320.01 198.94 L320.22 197.85 L320.44 196.75 L320.65 195.66 L320.86 194.57 L321.07 193.48 L321.28 192.40 L321.50 191.32 L321.71 190.25 L321.92 189.18 L322.13 188.13 L322.34 187.08 L322.55 186.03 L322.77 184.97 L322.98 183.91 L323.19 182.83 L323.40 181.76 L323.61 180.69 L323.83 179.61 L324.04 178.54 L324.25 177.48 L324.46 176.43 L324.67 175.38 L324.88 174.35 L325.10 173.33 L325.31 172.32 L325.52 171.34 L325.73 170.38 L325.94 169.44 L326.16 168.52 L326.37 167.63 L326.58 166.77 L326.79 165.92 L327.00 165.06 L327.21 164.18 L327.43 163.31 L327.64 162.44 L327.85 161.59 L328.06 160.74 L328.27 159.92 L328.49 159.11 L328.70 158.34 L328.91 157.61 L329.12 156.91 L329.33 156.26 L329.54 155.67 L329.76 155.12 L329.97 154.64 L330.18 154.23 L330.39 153.88 L330.60 153.54 L330.82 153.20 L331.03 152.88 L331.24 152.55 L331.45 152.24 L331.66 151.93 L331.88 151.64 L332.09 151.35 L332.30 151.08 L332.51 150.82 L332.72 150.58 L332.93 150.35 L333.15 150.14 L333.36 149.94 L333.57 149.77 L333.78 149.61 L333.99 149.48 L334.21 149.36 L334.42 149.27 L334.63 149.21 L334.84 149.17 L335.05 149.16 L335.26 149.16 L335.48 149.16 L335.69 149.17 L335.90 149.17 L336.11 149.18 L336.32 149.19 L336.54 149.21 L336.75 149.22 L336.96 149.24 L337.17 149.25 L337.38 149.27 L337.59 149.29 L337.81 149.31 L338.02 149.33 L338.23 149.35 L338.44 149.37 L338.65 149.39 L338.87 149.41 L339.08 149.43 L339.29 149.45 L339.50 149.47 L339.71 149.49 L339.92 149.51 L340.14 149.53 L340.35 149.55 L340.56 149.56 L340.77 149.58 L340.98 149.59 L341.20 149.61 L341.41 149.62 L341.62 149.63 L341.83 149.63 L342.04 149.64 L342.25 149.64 L342.47 149.64 L342.68 149.64 L342.89 149.64 L343.10 149.64 L343.31 149.64 L343.53 149.64 L343.74 149.64 L343.95 149.64 L344.16 149.64 L344.37 149.64 L344.59 149.64 L344.80 149.64 L345.01 149.64 L345.22 149.64 L345.43 149.64 L345.64 149.64 L345.86 149.64 L346.07 149.64 L346.28 149.64 L346.49 149.64 L346.70 149.64 L346.92 149.64 L347.13 149.64 L347.34 149.64 L347.55 149.64 L347.76 149.64 L347.97 149.64 L348.19 149.64 L348.40 149.64 L348.61 149.64 L348.82 149.64 L349.03 149.64 L349.25 149.64 L349.46 149.64 L349.67 149.64 L349.88 149.64 L350.09 149.64 L350.30 149.64 L350.52 149.64 L350.73 149.64 L350.94 149.64 L351.15 149.64 L351.36 149.64 L351.58 149.64 L351.79 149.64 L352.00 149.64 L352.21 149.64 L352.42 149.64 L352.63 149.64 L352.85 149.64 L353.06 149.64 L353.27 149.64 L353.48 149.64 L353.69 149.64 L353.91 149.64 L354.12 149.64 L354.33 149.64 L354.54 149.64 L354.75 149.64 L354.96 149.64 L355.18 149.64 L355.39 149.64 L355.60 149.64 L355.81 149.64 L356.02 149.64 L356.24 149.64 L356.45 149.64 L356.66 149.64 L356.87 149.64 L357.08 149.64 L357.29 149.64 L357.51 149.64 L357.72 149.64 L357.93 149.64 L358.14 149.64 L358.35 149.64 L358.57 149.64 L358.78 149.64 L358.99 149.64 L359.20 149.64 L359.41 149.64 L359.63 149.64 L359.84 149.64 L360.05 149.64 L360.26 149.64 L360.47 149.64 L360.68 149.64 L360.90 149.64 L361.11 149.64 L361.32 149.64 L361.53 149.64 L361.74 149.64 L361.96 149.64 L362.17 149.64 L362.38 149.64 L362.59 149.64 L362.80 149.64 L363.01 149.64 L363.23 149.64 L363.44 149.64 L363.65 149.64 L363.86 149.64 L364.07 149.64 L364.29 149.64 L364.50 149.64 L364.71 149.64 L364.92 149.64 L365.13 149.64 L365.34 149.64 L365.56 149.64 L365.77 149.64 L365.98 149.64 L366.19 149.64 L366.40 149.64 L366.62 149.64 L366.83 149.64 L367.04 149.64 L367.25 149.64 L367.46 149.64 L367.67 149.64 L367.89 149.64 L368.10 149.64 L368.31 149.64 L368.52 149.64 L368.73 149.64 L368.95 149.64 L369.16 149.64 L369.37 149.64 L369.58 149.64 L369.79 149.64 L370.00 149.64 L370.22 149.64 L370.43 149.64 L370.64 149.64 L370.85 149.64 L371.06 149.64 L371.28 149.64 L371.49 149.64 L371.70 149.64 L371.91 149.64 L372.12 149.64 L372.34 149.64 L372.55 149.64 L372.76 149.64 L372.97 149.64 L373.18 149.64 L373.39 149.64 L373.61 149.64 L373.82 149.64 L374.03 149.64 L374.24 149.64 L374.45 149.64 L374.67 149.64 L374.88 149.64 L375.09 149.64 L375.30 149.64 L375.51 149.64 L375.72 149.64 L375.94 149.64 L376.15 149.64 L376.36 149.64 L376.57 149.64 L376.78 149.64 L377.00 149.64 L377.21 149.64 L377.42 149.64 L377.63 149.64 L377.84 149.64 L378.05 149.64 L378.27 149.64 L378.48 149.64 L378.69 149.64 L378.90 149.64 L379.11 149.64 L379.33 149.64 L379.54 149.64 L379.75 149.64 L379.96 149.64 L380.17 149.64 L380.38 149.64 L380.60 149.64 L380.81 149.64 L381.02 149.64 L381.23 149.64 L381.44 149.64 L381.66 149.64 L381.87 149.64 L382.08 149.64 L382.29 149.64 L382.50 149.64 L382.72 149.64 L382.93 149.64 L383.14 149.64 L383.35 149.64 L383.56 149.64 L383.77 149.64 L383.99 149.64 L384.20 149.64 L384.41 149.64 L384.62 149.64 L384.83 149.64 L385.05 149.64 L385.26 149.64 L385.47 149.64 L385.68 149.64 L385.89 149.64 L386.10 149.64 L386.32 149.64 L386.53 149.64 L386.74 149.64 L386.95 149.64 L387.16 149.64 L387.38 149.64 L387.59 149.64 L387.80 149.64 L388.01 149.64 L388.22 149.64 L388.43 149.64 L388.65 149.64 L388.86 149.64 L389.07 149.64 L389.28 149.64 L389.49 149.64 L389.71 149.64 L389.92 149.64 L390.13 149.64 L390.34 149.64 L390.55 149.64 L390.76 149.64 L390.98 149.64 L391.19 149.64 L391.40 149.64 L391.61 149.64 L391.82 149.64 L392.04 149.64 L392.25 149.64 L392.46 149.64 L392.67 149.64 L392.88 149.64 L393.09 149.64 L393.31 149.64 L393.52 149.64 L393.73 149.64 L393.94 149.64 L394.15 149.64 L394.37 149.64 L394.58 149.64 L394.79 149.64 L395.00 149.64 L395.21 149.64 L395.43 149.64 L395.64 149.64 L395.85 149.64 L396.06 149.64 L396.27 149.64 L396.48 149.64 L396.70 149.64 L396.91 149.64 L397.12 149.64 L397.33 149.64 L397.54 149.64 L397.76 149.64 L397.97 149.64 L398.18 149.64 L398.39 149.64 L398.60 149.64 L398.81 149.64 L399.03 149.64 L399.24 149.64 L399.45 149.64 L399.66 149.64 L399.87 149.64 L400.09 149.64 L400.30 149.64 L400.51 149.64 L400.72 149.64 L400.93 149.64 L401.14 149.64 L401.36 149.64 L401.57 149.64 L401.78 149.64 L401.99 149.64 L402.20 149.64 L402.42 149.64 L402.63 149.64 L402.84 149.64 L403.05 149.64 L403.26 149.64 L403.47 149.64 L403.69 149.64 L403.90 149.64 L404.11 149.64 L404.32 149.64 L404.53 149.64 L404.75 149.64 L404.96 149.64 L405.17 149.64 L405.38 149.64 L405.59 149.64 L405.80 149.64 L406.02 149.64 L406.23 149.64 L406.44 149.64 L406.65 149.64 L406.86 149.64 L407.08 149.64 L407.29 149.64 L407.50 149.64 L407.71 149.64 L407.92 149.64 L408.13 149.64 L408.35 149.64 L408.56 149.64 L408.77 149.64 L408.98 149.64 L409.19 149.64 L409.41 149.64 L409.62 149.64 L409.83 149.64 L410.04 149.64 L410.25 149.64 L410.47 149.64 L410.68 149.64 L410.89 149.64 L411.10 149.64 L411.31 149.64 L411.52 149.64 L411.74 149.64 L411.95 149.64 L412.16 149.64 L412.37 149.64 L412.58 149.64 L412.80 149.64 L413.01 149.64 L413.22 149.64 L413.43 149.64 L413.64 149.64 L413.85 149.64 L414.07 149.64 L414.28 149.64 L414.49 149.64 L414.70 149.64 L414.91 149.64 L415.13 149.64 L415.34 149.64 L415.55 149.64 L415.76 149.64 L415.97 149.64 L416.18 149.64 L416.40 149.64 L416.61 149.64 L416.82 149.64 L417.03 149.64 L417.24 149.64 L417.46 149.64 L417.67 149.64 L417.88 149.64 L418.09 149.64 L418.30 149.64 L418.51 149.64 L418.73 149.64 L418.94 149.64 L419.15 149.64 L419.36 149.64 L419.57 149.64 L419.79 149.64 L420.00 149.64 L420.21 149.64 L420.42 149.64 L420.63 149.64 L420.85 149.64 L421.06 149.64 L421.27 149.64 L421.48 149.64 L421.69 149.64 L421.90 149.64 L422.12 149.64 L422.33 149.64 L422.54 149.64 L422.75 149.64 L422.96 149.64 L423.18 149.64 L423.39 149.64 L423.60 149.64 L423.81 149.64 L424.02 149.64 L424.23 149.64 L424.45 149.64 L424.66 149.64 L424.87 149.64 L425.08 149.64 L425.29 149.64 L425.51 149.64 L425.72 149.64 L425.93 149.64 L426.14 149.64 L426.35 149.64 L426.56 149.64 L426.78 149.64 L426.99 149.64 L427.20 149.64 L427.41 149.64 L427.62 149.64 L427.84 149.64 L428.05 149.64 L428.26 149.64 L428.47 149.64 L428.68 149.64 L428.89 149.64 L429.11 149.64 L429.32 149.64 L429.53 149.64 L429.74 149.64 L429.95 149.64 L430.17 149.64 L430.38 149.64 L430.59 149.64 L430.80 149.64 L431.01 149.64 L431.22 149.64 L431.44 149.64 L431.65 149.64 L431.86 149.64 L432.07 149.64 L432.28 149.64 L432.50 149.64 L432.71 149.64 L432.92 149.64 L433.13 149.64 L433.34 149.64 L433.56 149.64 L433.77 149.64 L433.98 149.64 L434.19 149.64 L434.40 149.64 L434.61 149.64 L434.83 149.64 L435.04 149.64 L435.25 149.64 L435.46 149.64 L435.67 149.64 L435.89 149.64 L436.10 149.64 L436.31 149.64 L436.52 149.64 L436.73 149.64 L436.94 149.64 L437.16 149.64 L437.37 149.64 L437.58 149.64 L437.79 149.64 L543.71 638.50 L649.62 638.50 L755.54 1005.50 L861.46 1005.50 L967.38 638.50 L1444.00 638.50" fill="none" stroke="#0000ff" stroke-width="9" stroke-linejoin="round" stroke-linecap="butt" shape-rendering="crispEdges"/>
<path d="M173.00 724.13 L173.21 723.35 L173.42 722.56 L173.64 721.77 L173.85 720.97 L174.06 720.16 L174.27 719.36 L174.48 718.54 L174.69 717.72 L174.91 716.90 L175.12 716.07 L175.33 715.24 L175.54 714.41 L175.75 713.57 L175.97 712.72 L176.18 711.88 L176.39 711.03 L176.60 710.17 L176.81 709.31 L177.02 708.45 L177.24 707.59 L177.45 706.72 L177.66 705.85 L177.87 704.98 L178.08 704.10 L178.30 703.22 L178.51 702.34 L178.72 701.45 L178.93 700.57 L179.14 699.68 L179.35 698.79 L179.57 697.90 L179.78 697.00 L179.99 696.11 L180.20 695.21 L180.41 694.31 L180.63 693.41 L180.84 692.51 L181.05 691.61 L181.26 690.71 L181.47 689.80 L181.69 688.90 L181.90 687.99 L182.11 687.09 L182.32 686.18 L182.53 685.27 L182.74 684.37 L182.96 683.46 L183.17 682.56 L183.38 681.65 L183.59 680.75 L183.80 679.84 L184.02 678.94 L184.23 678.03 L184.44 677.13 L184.65 676.23 L184.86 675.33 L185.07 674.43 L185.29 673.53 L185.50 672.63 L185.71 671.74 L185.92 670.85 L186.13 669.96 L186.35 669.07 L186.56 668.18 L186.77 667.29 L186.98 666.41 L187.19 665.53 L187.40 664.65 L187.62 663.78 L187.83 662.91 L188.04 662.04 L188.25 661.17 L188.46 660.31 L188.68 659.45 L188.89 658.59 L189.10 657.74 L189.31 656.89 L189.52 656.05 L189.73 655.20 L189.95 654.37 L190.16 653.53 L190.37 652.70 L190.58 651.88 L190.79 651.06 L191.01 650.24 L191.22 649.43 L191.43 648.63 L191.64 647.83 L191.85 647.03 L192.06 646.24 L192.28 645.46 L192.49 644.68 L192.70 643.90 L192.91 643.13 L193.12 642.37 L193.34 641.61 L193.55 640.86 L193.76 640.12 L193.97 639.38 L194.18 638.65 L194.40 637.92 L194.61 637.21 L194.82 636.49 L195.03 635.79 L195.24 635.09 L195.45 634.40 L195.67 633.72 L195.88 633.04 L196.09 632.37 L196.30 631.71 L196.51 631.06 L196.73 630.41 L196.94 629.78 L197.15 629.15 L197.36 628.53 L197.57 627.91 L197.78 627.31 L198.00 626.71 L198.21 626.12 L198.42 625.54 L198.63 624.97 L198.84 624.40 L199.06 623.84 L199.27 623.29 L199.48 622.75 L199.69 622.22 L199.90 621.69 L200.11 621.17 L200.33 620.66 L200.54 620.15 L200.75 619.66 L200.96 619.17 L201.17 618.69 L201.39 618.21 L201.60 617.75 L201.81 617.29 L202.02 616.84 L202.23 616.39 L202.44 615.96 L202.66 615.53 L202.87 615.11 L203.08 614.69 L203.29 614.29 L203.50 613.89 L203.72 613.50 L203.93 613.11 L204.14 612.73 L204.35 612.36 L204.56 612.00 L204.78 611.65 L204.99 611.30 L205.20 610.96 L205.41 610.62 L205.62 610.30 L205.83 609.98 L206.05 609.66 L206.26 609.36 L206.47 609.06 L206.68 608.77 L206.89 608.49 L207.11 608.21 L207.32 607.94 L207.53 607.68 L207.74 607.42 L207.95 607.17 L208.16 606.93 L208.38 606.69 L208.59 606.46 L208.80 606.24 L209.01 606.03 L209.22 605.82 L209.44 605.62 L209.65 605.42 L209.86 605.24 L210.07 605.05 L210.28 604.88 L210.49 604.71 L210.71 604.55 L210.92 604.40 L211.13 604.25 L211.34 604.11 L211.55 603.97 L211.77 603.85 L211.98 603.72 L212.19 603.61 L212.40 603.50 L212.61 603.40 L212.82 603.30 L213.04 603.21 L213.25 603.13 L213.46 603.06 L213.67 602.99 L213.88 602.92 L214.10 602.87 L214.31 602.81 L214.52 602.77 L214.73 602.73 L214.94 602.70 L215.15 602.67 L215.37 602.65 L215.58 602.64 L215.79 602.63 L216.00 602.63 L216.21 602.64 L216.43 602.65 L216.64 602.67 L216.85 602.69 L217.06 602.72 L217.27 602.75 L217.49 602.79 L217.70 602.84 L217.91 602.90 L218.12 602.95 L218.33 603.02 L218.54 603.09 L218.76 603.17 L218.97 603.25 L219.18 603.34 L219.39 603.43 L219.60 603.53 L219.82 603.64 L220.03 603.75 L220.24 603.87 L220.45 603.99 L220.66 604.12 L220.87 604.26 L221.09 604.40 L221.30 604.54 L221.51 604.69 L221.72 604.85 L221.93 605.01 L222.15 605.18 L222.36 605.36 L222.57 605.53 L222.78 605.72 L222.99 605.91 L223.20 606.11 L223.42 606.31 L223.63 606.51 L223.84 606.72 L224.05 606.94 L224.26 607.16 L224.48 607.39 L224.69 607.63 L224.90 607.86 L225.11 608.11 L225.32 608.36 L225.53 608.61 L225.75 608.87 L225.96 609.13 L226.17 608.37 L226.38 607.60 L226.59 606.82 L226.81 606.05 L227.02 605.27 L227.23 604.49 L227.44 603.70 L227.65 602.92 L227.86 602.13 L228.08 601.34 L228.29 600.54 L228.50 599.75 L228.71 598.94 L228.92 598.12 L229.14 597.27 L229.35 596.41 L229.56 595.54 L229.77 594.67 L229.98 593.81 L230.19 592.95 L230.41 592.10 L230.62 591.28 L230.83 590.49 L231.04 589.73 L231.25 589.01 L231.47 588.34 L231.68 587.71 L231.89 587.11 L232.10 586.54 L232.31 585.99 L232.53 585.47 L232.74 584.97 L232.95 584.47 L233.16 583.99 L233.37 583.51 L233.58 583.04 L233.80 582.56 L234.01 582.08 L234.22 581.59 L234.43 581.09 L234.64 580.57 L234.86 580.02 L235.07 579.46 L235.28 578.86 L235.49 578.23 L235.70 577.57 L235.91 576.87 L236.13 576.14 L236.34 575.39 L236.55 574.62 L236.76 573.83 L236.97 573.04 L237.19 572.23 L237.40 571.43 L237.61 570.63 L237.82 569.83 L238.03 569.05 L238.24 568.29 L238.46 567.54 L238.67 566.81 L238.88 566.09 L239.09 565.38 L239.30 564.68 L239.52 563.97 L239.73 563.28 L239.94 562.58 L240.15 561.88 L240.36 561.19 L240.57 560.49 L240.79 559.78 L241.00 559.07 L241.21 558.36 L241.42 557.63 L241.63 556.90 L241.85 556.15 L242.06 555.40 L242.27 554.64 L242.48 553.87 L242.69 553.10 L242.91 552.33 L243.12 551.55 L243.33 550.77 L243.54 549.99 L243.75 549.21 L243.96 548.44 L244.18 547.66 L244.39 546.89 L244.60 546.13 L244.81 545.37 L245.02 544.61 L245.24 543.87 L245.45 543.13 L245.66 542.39 L245.87 541.65 L246.08 540.92 L246.29 540.19 L246.51 539.46 L246.72 538.74 L246.93 538.01 L247.14 537.29 L247.35 536.57 L247.57 535.85 L247.78 535.14 L247.99 534.42 L248.20 533.71 L248.41 533.00 L248.62 532.29 L248.84 531.58 L249.05 530.87 L249.26 530.16 L249.47 529.45 L249.68 528.75 L249.90 528.04 L250.11 527.34 L250.32 526.65 L250.53 525.96 L250.74 525.27 L250.95 524.59 L251.17 523.90 L251.38 523.22 L251.59 522.54 L251.80 521.85 L252.01 521.16 L252.23 520.47 L252.44 519.77 L252.65 519.06 L252.86 518.35 L253.07 517.63 L253.28 516.90 L253.50 516.17 L253.71 515.45 L253.92 514.72 L254.13 513.99 L254.34 513.25 L254.56 512.52 L254.77 511.78 L254.98 511.03 L255.19 510.29 L255.40 509.54 L255.62 508.78 L255.83 508.02 L256.04 507.25 L256.25 506.48 L256.46 505.70 L256.67 504.91 L256.89 504.11 L257.10 503.31 L257.31 502.50 L257.52 501.68 L257.73 500.85 L257.95 500.01 L258.16 499.16 L258.37 498.30 L258.58 497.44 L258.79 496.56 L259.00 495.67 L259.22 494.78 L259.43 493.88 L259.64 492.97 L259.85 492.05 L260.06 491.13 L260.28 490.19 L260.49 489.25 L260.70 488.31 L260.91 487.36 L261.12 486.40 L261.33 485.44 L261.55 484.47 L261.76 483.50 L261.97 482.52 L262.18 481.54 L262.39 480.55 L262.61 479.56 L262.82 478.57 L263.03 477.57 L263.24 476.58 L263.45 475.57 L263.66 474.57 L263.88 473.57 L264.09 472.56 L264.30 471.55 L264.51 470.54 L264.72 469.53 L264.94 468.52 L265.15 467.51 L265.36 466.50 L265.57 465.49 L265.78 464.48 L265.99 463.47 L266.21 462.47 L266.42 461.46 L266.63 460.46 L266.84 459.46 L267.05 458.46 L267.27 457.47 L267.48 456.47 L267.69 455.49 L267.90 454.50 L268.11 453.52 L268.32 452.55 L268.54 451.57 L268.75 450.60 L268.96 449.63 L269.17 448.65 L269.38 447.68 L269.60 446.70 L269.81 445.73 L270.02 444.76 L270.23 443.78 L270.44 442.81 L270.66 441.84 L270.87 440.86 L271.08 439.89 L271.29 438.91 L271.50 437.94 L271.71 436.97 L271.93 435.99 L272.14 435.02 L272.35 434.04 L272.56 433.07 L272.77 432.09 L272.99 431.12 L273.20 430.14 L273.41 429.16 L273.62 428.19 L273.83 427.21 L274.04 426.23 L274.26 425.25 L274.47 424.28 L274.68 423.30 L274.89 422.32 L275.10 421.34 L275.32 420.36 L275.53 419.38 L275.74 418.40 L275.95 417.42 L276.16 416.43 L276.37 415.45 L276.59 414.47 L276.80 413.48 L277.01 412.50 L277.22 411.51 L277.43 410.53 L277.65 409.54 L277.86 408.56 L278.07 407.57 L278.28 406.58 L278.49 405.59 L278.70 404.60 L278.92 403.61 L279.13 402.62 L279.34 401.63 L279.55 400.63 L279.76 399.64 L279.98 398.64 L280.19 397.64 L280.40 396.64 L280.61 395.64 L280.82 394.64 L281.03 393.64 L281.25 392.64 L281.46 391.63 L281.67 390.63 L281.88 389.62 L282.09 388.62 L282.31 387.61 L282.52 386.60 L282.73 385.60 L282.94 384.59 L283.15 383.58 L283.37 382.57 L283.58 381.56 L283.79 380.55 L284.00 379.54 L284.21 378.53 L284.42 377.52 L284.64 376.51 L284.85 375.51 L285.06 374.50 L285.27 373.49 L285.48 372.48 L285.70 371.47 L285.91 370.46 L286.12 369.46 L286.33 368.45 L286.54 367.44 L286.75 366.44 L286.97 365.43 L287.18 364.43 L287.39 363.43 L287.60 362.42 L287.81 361.42 L288.03 360.42 L288.24 359.42 L288.45 358.43 L288.66 357.43 L288.87 356.43 L289.08 355.44 L289.30 354.45 L289.51 353.45 L289.72 352.46 L289.93 351.47 L290.14 350.48 L290.36 349.49 L290.57 348.49 L290.78 347.50 L290.99 346.51 L291.20 345.52 L291.41 344.52 L291.63 343.53 L291.84 342.54 L292.05 341.54 L292.26 340.55 L292.47 339.56 L292.69 338.56 L292.90 337.57 L293.11 336.58 L293.32 335.59 L293.53 334.60 L293.75 333.61 L293.96 332.62 L294.17 331.63 L294.38 330.64 L294.59 329.66 L294.80 328.67 L295.02 327.69 L295.23 326.70 L295.44 325.72 L295.65 324.74 L295.86 323.76 L296.08 322.78 L296.29 321.80 L296.50 320.83 L296.71 319.85 L296.92 318.88 L297.13 317.91 L297.35 316.94 L297.56 315.97 L297.77 315.01 L297.98 314.04 L298.19 313.08 L298.41 312.12 L298.62 311.16 L298.83 310.21 L299.04 309.25 L299.25 308.30 L299.46 307.35 L299.68 306.41 L299.89 305.46 L300.10 304.52 L300.31 303.58 L300.52 302.66 L300.74 301.74 L300.95 300.82 L301.16 299.92 L301.37 299.02 L301.58 298.12 L301.79 297.23 L302.01 296.34 L302.22 295.46 L302.43 294.58 L302.64 293.70 L302.85 292.82 L303.07 291.95 L303.28 291.07 L303.49 290.20 L303.70 289.32 L303.91 288.44 L304.12 287.56 L304.34 286.68 L304.55 285.79 L304.76 284.90 L304.97 284.01 L305.18 283.11 L305.40 282.20 L305.61 281.29 L305.82 280.38 L306.03 279.45 L306.24 278.52 L306.46 277.57 L306.67 276.62 L306.88 275.66 L307.09 274.69 L307.30 273.71 L307.51 272.71 L307.73 271.71 L307.94 270.70 L308.15 269.69 L308.36 268.67 L308.57 267.65 L308.79 266.62 L309.00 265.58 L309.21 264.54 L309.42 263.49 L309.63 262.43 L309.84 261.37 L310.06 260.30 L310.27 259.22 L310.48 258.13 L310.69 257.03 L310.90 255.93 L311.12 254.81 L311.33 253.69 L311.54 252.56 L311.75 251.42 L311.96 250.27 L312.17 249.10 L312.39 247.93 L312.60 246.75 L312.81 245.55 L313.02 244.35 L313.23 243.13 L313.45 241.90 L313.66 240.66 L313.87 239.40 L314.08 238.12 L314.29 236.81 L314.50 235.48 L314.72 234.13 L314.93 232.76 L315.14 231.38 L315.35 229.98 L315.56 228.56 L315.78 227.14 L315.99 225.70 L316.20 224.25 L316.41 222.79 L316.62 221.33 L316.83 219.87 L317.05 218.40 L317.26 216.93 L317.47 215.45 L317.68 213.98 L317.89 212.52 L318.11 211.05 L318.32 209.59 L318.53 208.12 L318.74 206.64 L318.95 205.15 L319.17 203.65 L319.38 202.14 L319.59 200.62 L319.80 199.10 L320.01 197.58 L320.22 196.06 L320.44 194.53 L320.65 193.00 L320.86 191.48 L321.07 189.96 L321.28 188.44 L321.50 186.93 L321.71 185.42 L321.92 183.93 L322.13 182.44 L322.34 180.96 L322.55 179.46 L322.77 177.91 L322.98 176.32 L323.19 174.71 L323.40 173.08 L323.61 171.44 L323.83 169.82 L324.04 168.21 L324.25 166.63 L324.46 165.10 L324.67 163.61 L324.88 162.20 L325.10 160.86 L325.31 159.61 L325.52 158.45 L325.73 157.41 L325.94 156.50 L326.16 155.65 L326.37 154.82 L326.58 154.02 L326.79 153.24 L327.00 152.50 L327.21 151.80 L327.43 151.14 L327.64 150.53 L327.85 149.98 L328.06 149.49 L328.27 149.06 L328.49 148.70 L328.70 148.42 L328.91 148.18 L329.12 147.95 L329.33 147.73 L329.54 147.52 L329.76 147.31 L329.97 147.12 L330.18 146.93 L330.39 146.74 L330.60 146.57 L330.82 146.41 L331.03 146.25 L331.24 146.10 L331.45 145.96 L331.66 145.83 L331.88 145.71 L332.09 145.60 L332.30 145.49 L332.51 145.40 L332.72 145.31 L332.93 145.24 L333.15 145.17 L333.36 145.11 L333.57 145.06 L333.78 145.02 L333.99 145.00 L334.21 144.97 L334.42 144.95 L334.63 144.93 L334.84 144.90 L335.05 144.88 L335.26 144.86 L335.48 144.84 L335.69 144.82 L335.90 144.80 L336.11 144.78 L336.32 144.77 L336.54 144.75 L336.75 144.73 L336.96 144.72 L337.17 144.70 L337.38 144.69 L337.59 144.67 L337.81 144.66 L338.02 144.64 L338.23 144.63 L338.44 144.62 L338.65 144.61 L338.87 144.60 L339.08 144.59 L339.29 144.58 L339.50 144.57 L339.71 144.56 L339.92 144.55 L340.14 144.54 L340.35 144.54 L340.56 144.53 L340.77 144.53 L340.98 144.52 L341.20 144.52 L341.41 144.51 L341.62 144.51 L341.83 144.51 L342.04 144.51 L342.25 144.51 L342.47 144.51 L342.68 144.51 L342.89 144.51 L343.10 144.51 L343.31 144.52 L343.53 144.52 L343.74 144.53 L343.95 144.54 L344.16 144.55 L344.37 144.56 L344.59 144.57 L344.80 144.58 L345.01 144.59 L345.22 144.61 L345.43 144.62 L345.64 144.64 L345.86 144.66 L346.07 144.68 L346.28 144.69 L346.49 144.71 L346.70 144.74 L346.92 144.76 L347.13 144.78 L347.34 144.80 L347.55 144.83 L347.76 144.85 L347.97 144.87 L348.19 144.90 L348.40 144.93 L348.61 144.95 L348.82 144.98 L349.03 145.01 L349.25 145.04 L349.46 145.07 L349.67 145.10 L349.88 145.13 L350.09 145.16 L350.30 145.19 L350.52 145.22 L350.73 145.25 L350.94 145.28 L351.15 145.31 L351.36 145.34 L351.58 145.37 L351.79 145.41 L352.00 145.44 L352.21 145.47 L352.42 145.50 L352.63 145.54 L352.85 145.57 L353.06 145.60 L353.27 145.64 L353.48 145.67 L353.69 145.70 L353.91 145.73 L354.12 145.77 L354.33 145.80 L354.54 145.83 L354.75 145.86 L354.96 145.89 L355.18 145.92 L355.39 145.96 L355.60 145.99 L355.81 146.02 L356.02 146.05 L356.24 146.08 L356.45 146.11 L356.66 146.14 L356.87 146.16 L357.08 146.19 L357.29 146.22 L357.51 146.25 L357.72 146.27 L357.93 146.30 L358.14 146.33 L358.35 146.36 L358.57 146.39 L358.78 146.41 L358.99 146.44 L359.20 146.47 L359.41 146.50 L359.63 146.53 L359.84 146.56 L360.05 146.59 L360.26 146.62 L360.47 146.65 L360.68 146.68 L360.90 146.71 L361.11 146.74 L361.32 146.77 L361.53 146.80 L361.74 146.83 L361.96 146.87 L362.17 146.90 L362.38 146.93 L362.59 146.96 L362.80 146.99 L363.01 147.02 L363.23 147.05 L363.44 147.09 L363.65 147.12 L363.86 147.15 L364.07 147.18 L364.29 147.21 L364.50 147.25 L364.71 147.28 L364.92 147.31 L365.13 147.34 L365.34 147.38 L365.56 147.41 L365.77 147.44 L365.98 147.47 L366.19 147.50 L366.40 147.54 L366.62 147.57 L366.83 147.60 L367.04 147.63 L367.25 147.67 L367.46 147.70 L367.67 147.73 L367.89 147.76 L368.10 147.79 L368.31 147.83 L368.52 147.86 L368.73 147.89 L368.95 147.92 L369.16 147.95 L369.37 147.98 L369.58 148.01 L369.79 148.05 L370.00 148.08 L370.22 148.11 L370.43 148.14 L370.64 148.17 L370.85 148.20 L371.06 148.23 L371.28 148.26 L371.49 148.29 L371.70 148.32 L371.91 148.35 L372.12 148.38 L372.34 148.41 L372.55 148.44 L372.76 148.47 L372.97 148.50 L373.18 148.53 L373.39 148.55 L373.61 148.58 L373.82 148.61 L374.03 148.64 L374.24 148.67 L374.45 148.69 L374.67 148.72 L374.88 148.75 L375.09 148.78 L375.30 148.81 L375.51 148.84 L375.72 148.86 L375.94 148.89 L376.15 148.92 L376.36 148.95 L376.57 148.98 L376.78 149.01 L377.00 149.04 L377.21 149.08 L377.42 149.11 L377.63 149.14 L377.84 149.17 L378.05 149.20 L378.27 149.23 L378.48 149.26 L378.69 149.30 L378.90 149.33 L379.11 149.36 L379.33 149.39 L379.54 149.42 L379.75 149.46 L379.96 149.49 L380.17 149.52 L380.38 149.55 L380.60 149.59 L380.81 149.62 L381.02 149.65 L381.23 149.68 L381.44 149.72 L381.66 149.75 L381.87 149.78 L382.08 149.82 L382.29 149.85 L382.50 149.88 L382.72 149.91 L382.93 149.95 L383.14 149.98 L383.35 150.01 L383.56 150.04 L383.77 150.08 L383.99 150.11 L384.20 150.14 L384.41 150.17 L384.62 150.20 L384.83 150.24 L385.05 150.27 L385.26 150.30 L385.47 150.33 L385.68 150.36 L385.89 150.39 L386.10 150.42 L386.32 150.45 L386.53 150.48 L386.74 150.51 L386.95 150.54 L387.16 150.57 L387.38 150.60 L387.59 150.63 L387.80 150.66 L388.01 150.69 L388.22 150.72 L388.43 150.75 L388.65 150.78 L388.86 150.80 L389.07 150.83 L389.28 150.86 L389.49 150.88 L389.71 150.91 L389.92 150.94 L390.13 150.96 L390.34 150.99 L390.55 151.01 L390.76 151.04 L390.98 151.06 L391.19 151.08 L391.40 151.11 L391.61 151.13 L391.82 151.15 L392.04 151.17 L392.25 151.20 L392.46 151.22 L392.67 151.24 L392.88 151.26 L393.09 151.28 L393.31 151.30 L393.52 151.32 L393.73 151.33 L393.94 151.35 L394.15 151.37 L394.37 151.39 L394.58 151.40 L394.79 151.42 L395.00 151.43 L395.21 151.45 L395.43 151.46 L395.64 151.47 L395.85 151.49 L396.06 151.50 L396.27 151.51 L396.48 151.52 L396.70 151.53 L396.91 151.54 L397.12 151.55 L397.33 151.56 L397.54 151.56 L397.76 151.57 L397.97 151.58 L398.18 151.58 L398.39 151.59 L398.60 151.59 L398.81 151.60 L399.03 151.60 L399.24 151.60 L399.45 151.60 L399.66 151.60 L399.87 151.60 L400.09 151.60 L400.30 151.60 L400.51 151.60 L400.72 151.60 L400.93 151.60 L401.14 151.60 L401.36 151.60 L401.57 151.60 L401.78 151.60 L401.99 151.60 L402.20 151.60 L402.42 151.60 L402.63 151.60 L402.84 151.60 L403.05 151.60 L403.26 151.60 L403.47 151.60 L403.69 151.60 L403.90 151.60 L404.11 151.60 L404.32 151.60 L404.53 151.60 L404.75 151.60 L404.96 151.60 L405.17 151.60 L405.38 151.60 L405.59 151.60 L405.80 151.60 L406.02 151.60 L406.23 151.60 L406.44 151.60 L406.65 151.60 L406.86 151.60 L407.08 151.60 L407.29 151.60 L407.50 151.60 L407.71 151.60 L407.92 151.60 L408.13 151.60 L408.35 151.60 L408.56 151.60 L408.77 151.60 L408.98 151.60 L409.19 151.60 L409.41 151.60 L409.62 151.60 L409.83 151.60 L410.04 151.60 L410.25 151.60 L410.47 151.60 L410.68 151.60 L410.89 151.60 L411.10 151.60 L411.31 151.60 L411.52 151.60 L411.74 151.60 L411.95 151.60 L412.16 151.60 L412.37 151.60 L412.58 151.60 L412.80 151.60 L413.01 151.60 L413.22 151.60 L413.43 151.60 L413.64 151.60 L413.85 151.60 L414.07 151.60 L414.28 151.60 L414.49 151.60 L414.70 151.60 L414.91 151.60 L415.13 151.60 L415.34 151.60 L415.55 151.60 L415.76 151.60 L415.97 151.60 L416.18 151.60 L416.40 151.60 L416.61 151.60 L416.82 151.60 L417.03 151.60 L417.24 151.60 L417.46 151.60 L417.67 151.60 L417.88 151.60 L418.09 151.60 L418.30 151.60 L418.51 151.60 L418.73 151.60 L418.94 151.60 L419.15 151.60 L419.36 151.60 L419.57 151.60 L419.79 151.60 L420.00 151.60 L420.21 151.60 L420.42 151.60 L420.63 151.60 L420.85 151.60 L421.06 151.60 L421.27 151.60 L421.48 151.60 L421.69 151.60 L421.90 151.60 L422.12 151.60 L422.33 151.60 L422.54 151.60 L422.75 151.60 L422.96 151.60 L423.18 151.60 L423.39 151.60 L423.60 151.60 L423.81 151.60 L424.02 151.60 L424.23 151.60 L424.45 151.60 L424.66 151.60 L424.87 151.60 L425.08 151.60 L425.29 151.60 L425.51 151.60 L425.72 151.60 L425.93 151.60 L426.14 151.60 L426.35 151.60 L426.56 151.60 L426.78 151.60 L426.99 151.60 L427.20 151.60 L427.41 151.60 L427.62 151.60 L427.84 151.60 L428.05 151.60 L428.26 151.60 L428.47 151.60 L428.68 151.60 L428.89 151.60 L429.11 151.60 L429.32 151.60 L429.53 151.60 L429.74 151.60 L429.95 151.60 L430.17 151.60 L430.38 151.60 L430.59 151.60 L430.80 151.60 L431.01 151.60 L431.22 151.60 L431.44 151.60 L431.65 151.60 L431.86 151.60 L432.07 151.59 L432.28 151.59 L432.50 151.58 L432.71 151.57 L432.92 151.56 L433.13 151.55 L433.34 151.53 L433.56 151.52 L433.77 151.50 L433.98 151.48 L434.19 151.47 L434.40 151.45 L434.61 151.43 L434.83 151.41 L435.04 151.39 L435.25 151.37 L435.46 151.35 L435.67 151.32 L435.89 151.30 L436.10 151.28 L436.31 151.26 L436.52 151.24 L436.73 151.21 L436.94 151.19 L437.16 151.17 L437.37 151.15 L437.58 151.13 L437.79 151.11 L543.71 638.50 L649.62 638.50 L755.54 1005.50 L861.46 1005.50 L967.38 638.50 L1444.00 638.50" fill="none" stroke="#000000" stroke-width="9" stroke-linejoin="round" stroke-linecap="butt" stroke-dasharray="33 6 17 7" shape-rendering="crispEdges"/>
<path d="M173.00 799.98 L173.21 798.35 L173.42 796.69 L173.64 794.99 L173.85 793.26 L174.06 791.50 L174.27 789.71 L174.48 787.90 L174.69 786.06 L174.91 784.20 L175.12 782.33 L175.33 780.44 L175.54 778.53 L175.75 776.62 L175.97 774.70 L176.18 772.77 L176.39 770.84 L176.60 768.91 L176.81 766.98 L177.02 765.05 L177.24 763.13 L177.45 761.21 L177.66 759.30 L177.87 757.40 L178.08 755.51 L178.30 753.63 L178.51 751.77 L178.72 749.93 L178.93 748.10 L179.14 746.29 L179.35 744.50 L179.57 742.72 L179.78 740.97 L179.99 739.22 L180.20 737.50 L180.41 735.79 L180.63 734.10 L180.84 732.42 L181.05 730.75 L181.26 729.11 L181.47 727.47 L181.69 725.85 L181.90 724.25 L182.11 722.66 L182.32 721.08 L182.53 719.52 L182.74 717.96 L182.96 716.42 L183.17 714.90 L183.38 713.38 L183.59 711.88 L183.80 710.39 L184.02 708.91 L184.23 707.45 L184.44 705.99 L184.65 704.55 L184.86 703.12 L185.07 701.70 L185.29 700.30 L185.50 698.90 L185.71 697.52 L185.92 696.15 L186.13 694.80 L186.35 693.45 L186.56 692.12 L186.77 690.80 L186.98 689.49 L187.19 688.20 L187.40 686.91 L187.62 685.64 L187.83 684.38 L188.04 683.13 L188.25 681.90 L188.46 680.67 L188.68 679.46 L188.89 678.26 L189.10 677.07 L189.31 675.90 L189.52 674.73 L189.73 673.58 L189.95 672.44 L190.16 671.32 L190.37 670.20 L190.58 669.10 L190.79 668.01 L191.01 666.93 L191.22 665.86 L191.43 664.80 L191.64 663.76 L191.85 662.73 L192.06 661.71 L192.28 660.70 L192.49 659.70 L192.70 658.72 L192.91 657.75 L193.12 656.79 L193.34 655.84 L193.55 654.91 L193.76 653.98 L193.97 653.07 L194.18 652.17 L194.40 651.28 L194.61 650.40 L194.82 649.54 L195.03 648.69 L195.24 647.85 L195.45 647.02 L195.67 646.20 L195.88 645.40 L196.09 644.60 L196.30 643.82 L196.51 643.05 L196.73 642.29 L196.94 641.55 L197.15 640.81 L197.36 640.09 L197.57 639.38 L197.78 638.68 L198.00 637.99 L198.21 637.31 L198.42 636.65 L198.63 635.99 L198.84 635.35 L199.06 634.72 L199.27 634.10 L199.48 633.48 L199.69 632.88 L199.90 632.29 L200.11 631.71 L200.33 631.14 L200.54 630.58 L200.75 630.04 L200.96 629.50 L201.17 628.97 L201.39 628.45 L201.60 627.94 L201.81 627.44 L202.02 626.95 L202.23 626.47 L202.44 626.00 L202.66 625.54 L202.87 625.08 L203.08 624.64 L203.29 624.21 L203.50 623.78 L203.72 623.36 L203.93 622.96 L204.14 622.56 L204.35 622.17 L204.56 621.79 L204.78 621.41 L204.99 621.05 L205.20 620.69 L205.41 620.34 L205.62 620.00 L205.83 619.67 L206.05 619.35 L206.26 619.03 L206.47 618.72 L206.68 618.42 L206.89 618.12 L207.11 617.84 L207.32 617.56 L207.53 617.29 L207.74 617.02 L207.95 616.76 L208.16 616.51 L208.38 616.27 L208.59 616.03 L208.80 615.80 L209.01 615.58 L209.22 615.36 L209.44 615.15 L209.65 614.95 L209.86 614.75 L210.07 614.56 L210.28 614.37 L210.49 614.19 L210.71 614.02 L210.92 613.85 L211.13 613.69 L211.34 613.53 L211.55 613.38 L211.77 613.23 L211.98 613.09 L212.19 612.96 L212.40 612.83 L212.61 612.70 L212.82 612.58 L213.04 612.47 L213.25 612.36 L213.46 612.25 L213.67 612.15 L213.88 612.05 L214.10 611.96 L214.31 611.87 L214.52 611.79 L214.73 611.71 L214.94 611.64 L215.15 611.57 L215.37 611.50 L215.58 611.44 L215.79 611.38 L216.00 611.32 L216.21 611.27 L216.43 611.22 L216.64 611.17 L216.85 611.13 L217.06 611.09 L217.27 611.05 L217.49 611.02 L217.70 610.99 L217.91 610.96 L218.12 610.94 L218.33 610.91 L218.54 610.90 L218.76 610.88 L218.97 610.86 L219.18 610.85 L219.39 610.84 L219.60 610.83 L219.82 610.82 L220.03 610.82 L220.24 610.82 L220.45 610.82 L220.66 610.82 L220.87 610.82 L221.09 610.82 L221.30 610.83 L221.51 610.83 L221.72 610.84 L221.93 610.85 L222.15 610.86 L222.36 610.87 L222.57 610.88 L222.78 610.89 L222.99 610.90 L223.20 610.92 L223.42 610.93 L223.63 610.94 L223.84 610.96 L224.05 610.97 L224.26 610.99 L224.48 611.00 L224.69 611.01 L224.90 611.03 L225.11 611.04 L225.32 611.06 L225.53 611.07 L225.75 611.08 L225.96 611.09 L226.17 610.34 L226.38 609.57 L226.59 608.77 L226.81 607.95 L227.02 607.10 L227.23 606.24 L227.44 605.36 L227.65 604.45 L227.86 603.53 L228.08 602.56 L228.29 601.55 L228.50 600.52 L228.71 599.47 L228.92 598.43 L229.14 597.40 L229.35 596.40 L229.56 595.42 L229.77 594.44 L229.98 593.46 L230.19 592.49 L230.41 591.51 L230.62 590.54 L230.83 589.56 L231.04 588.58 L231.25 587.59 L231.47 586.61 L231.68 585.63 L231.89 584.65 L232.10 583.68 L232.31 582.72 L232.53 581.76 L232.74 580.81 L232.95 579.86 L233.16 578.92 L233.37 577.98 L233.58 577.05 L233.80 576.13 L234.01 575.22 L234.22 574.30 L234.43 573.39 L234.64 572.49 L234.86 571.58 L235.07 570.68 L235.28 569.78 L235.49 568.89 L235.70 567.99 L235.91 567.10 L236.13 566.21 L236.34 565.33 L236.55 564.45 L236.76 563.57 L236.97 562.69 L237.19 561.81 L237.40 560.94 L237.61 560.07 L237.82 559.20 L238.03 558.33 L238.24 557.46 L238.46 556.60 L238.67 555.74 L238.88 554.88 L239.09 554.03 L239.30 553.20 L239.52 552.37 L239.73 551.55 L239.94 550.74 L240.15 549.92 L240.36 549.10 L240.57 548.28 L240.79 547.45 L241.00 546.61 L241.21 545.76 L241.42 544.90 L241.63 544.01 L241.85 543.11 L242.06 542.19 L242.27 541.24 L242.48 540.29 L242.69 539.32 L242.91 538.34 L243.12 537.35 L243.33 536.35 L243.54 535.35 L243.75 534.35 L243.96 533.34 L244.18 532.34 L244.39 531.34 L244.60 530.35 L244.81 529.36 L245.02 528.37 L245.24 527.38 L245.45 526.38 L245.66 525.38 L245.87 524.38 L246.08 523.38 L246.29 522.38 L246.51 521.38 L246.72 520.38 L246.93 519.38 L247.14 518.38 L247.35 517.38 L247.57 516.39 L247.78 515.39 L247.99 514.39 L248.20 513.39 L248.41 512.39 L248.62 511.40 L248.84 510.40 L249.05 509.40 L249.26 508.40 L249.47 507.40 L249.68 506.41 L249.90 505.41 L250.11 504.41 L250.32 503.41 L250.53 502.42 L250.74 501.42 L250.95 500.42 L251.17 499.42 L251.38 498.42 L251.59 497.43 L251.80 496.43 L252.01 495.43 L252.23 494.43 L252.44 493.43 L252.65 492.44 L252.86 491.44 L253.07 490.44 L253.28 489.44 L253.50 488.44 L253.71 487.44 L253.92 486.44 L254.13 485.45 L254.34 484.45 L254.56 483.45 L254.77 482.45 L254.98 481.45 L255.19 480.45 L255.40 479.45 L255.62 478.45 L255.83 477.45 L256.04 476.45 L256.25 475.45 L256.46 474.45 L256.67 473.45 L256.89 472.45 L257.10 471.45 L257.31 470.45 L257.52 469.45 L257.73 468.45 L257.95 467.45 L258.16 466.45 L258.37 465.44 L258.58 464.44 L258.79 463.44 L259.00 462.43 L259.22 461.43 L259.43 460.42 L259.64 459.42 L259.85 458.41 L260.06 457.41 L260.28 456.40 L260.49 455.40 L260.70 454.39 L260.91 453.38 L261.12 452.38 L261.33 451.37 L261.55 450.36 L261.76 449.35 L261.97 448.35 L262.18 447.34 L262.39 446.33 L262.61 445.33 L262.82 444.32 L263.03 443.31 L263.24 442.31 L263.45 441.30 L263.66 440.29 L263.88 439.29 L264.09 438.28 L264.30 437.28 L264.51 436.27 L264.72 435.27 L264.94 434.26 L265.15 433.26 L265.36 432.26 L265.57 431.26 L265.78 430.25 L265.99 429.25 L266.21 428.25 L266.42 427.25 L266.63 426.25 L266.84 425.26 L267.05 424.26 L267.27 423.26 L267.48 422.27 L267.69 421.27 L267.90 420.28 L268.11 419.28 L268.32 418.29 L268.54 417.30 L268.75 416.31 L268.96 415.31 L269.17 414.32 L269.38 413.33 L269.60 412.33 L269.81 411.33 L270.02 410.34 L270.23 409.34 L270.44 408.35 L270.66 407.35 L270.87 406.35 L271.08 405.35 L271.29 404.35 L271.50 403.36 L271.71 402.36 L271.93 401.36 L272.14 400.36 L272.35 399.36 L272.56 398.37 L272.77 397.37 L272.99 396.37 L273.20 395.37 L273.41 394.37 L273.62 393.38 L273.83 392.38 L274.04 391.38 L274.26 390.39 L274.47 389.39 L274.68 388.40 L274.89 387.40 L275.10 386.41 L275.32 385.42 L275.53 384.42 L275.74 383.43 L275.95 382.44 L276.16 381.45 L276.37 380.46 L276.59 379.47 L276.80 378.49 L277.01 377.50 L277.22 376.52 L277.43 375.53 L277.65 374.55 L277.86 373.57 L278.07 372.59 L278.28 371.61 L278.49 370.63 L278.70 369.65 L278.92 368.68 L279.13 367.70 L279.34 366.73 L279.55 365.76 L279.76 364.79 L279.98 363.83 L280.19 362.86 L280.40 361.90 L280.61 360.93 L280.82 359.97 L281.03 359.01 L281.25 358.06 L281.46 357.10 L281.67 356.15 L281.88 355.20 L282.09 354.25 L282.31 353.31 L282.52 352.36 L282.73 351.42 L282.94 350.48 L283.15 349.54 L283.37 348.61 L283.58 347.67 L283.79 346.74 L284.00 345.82 L284.21 344.89 L284.42 343.97 L284.64 343.04 L284.85 342.12 L285.06 341.20 L285.27 340.28 L285.48 339.36 L285.70 338.44 L285.91 337.52 L286.12 336.60 L286.33 335.68 L286.54 334.77 L286.75 333.85 L286.97 332.94 L287.18 332.03 L287.39 331.12 L287.60 330.21 L287.81 329.30 L288.03 328.40 L288.24 327.49 L288.45 326.59 L288.66 325.69 L288.87 324.79 L289.08 323.90 L289.30 323.01 L289.51 322.11 L289.72 321.23 L289.93 320.34 L290.14 319.46 L290.36 318.58 L290.57 317.70 L290.78 316.82 L290.99 315.95 L291.20 315.08 L291.41 314.22 L291.63 313.35 L291.84 312.49 L292.05 311.64 L292.26 310.79 L292.47 309.94 L292.69 309.09 L292.90 308.25 L293.11 307.41 L293.32 306.58 L293.53 305.75 L293.75 304.92 L293.96 304.10 L294.17 303.28 L294.38 302.47 L294.59 301.66 L294.80 300.85 L295.02 300.05 L295.23 299.26 L295.44 298.47 L295.65 297.70 L295.86 296.92 L296.08 296.16 L296.29 295.40 L296.50 294.65 L296.71 293.90 L296.92 293.15 L297.13 292.41 L297.35 291.68 L297.56 290.95 L297.77 290.23 L297.98 289.51 L298.19 288.79 L298.41 288.07 L298.62 287.36 L298.83 286.65 L299.04 285.95 L299.25 285.24 L299.46 284.54 L299.68 283.84 L299.89 283.14 L300.10 282.45 L300.31 281.75 L300.52 281.05 L300.74 280.36 L300.95 279.67 L301.16 278.97 L301.37 278.28 L301.58 277.58 L301.79 276.88 L302.01 276.19 L302.22 275.49 L302.43 274.79 L302.64 274.08 L302.85 273.38 L303.07 272.67 L303.28 271.96 L303.49 271.25 L303.70 270.53 L303.91 269.82 L304.12 269.09 L304.34 268.37 L304.55 267.63 L304.76 266.90 L304.97 266.16 L305.18 265.41 L305.40 264.66 L305.61 263.91 L305.82 263.14 L306.03 262.38 L306.24 261.60 L306.46 260.82 L306.67 260.03 L306.88 259.24 L307.09 258.44 L307.30 257.63 L307.51 256.81 L307.73 255.98 L307.94 255.15 L308.15 254.32 L308.36 253.47 L308.57 252.62 L308.79 251.77 L309.00 250.91 L309.21 250.04 L309.42 249.17 L309.63 248.29 L309.84 247.41 L310.06 246.52 L310.27 245.63 L310.48 244.73 L310.69 243.83 L310.90 242.92 L311.12 242.01 L311.33 241.10 L311.54 240.18 L311.75 239.25 L311.96 238.32 L312.17 237.39 L312.39 236.46 L312.60 235.52 L312.81 234.58 L313.02 233.63 L313.23 232.68 L313.45 231.73 L313.66 230.77 L313.87 229.82 L314.08 228.86 L314.29 227.89 L314.50 226.93 L314.72 225.96 L314.93 224.99 L315.14 224.02 L315.35 223.04 L315.56 222.07 L315.78 221.09 L315.99 220.11 L316.20 219.12 L316.41 218.12 L316.62 217.11 L316.83 216.08 L317.05 215.04 L317.26 213.99 L317.47 212.93 L317.68 211.87 L317.89 210.79 L318.11 209.71 L318.32 208.63 L318.53 207.54 L318.74 206.44 L318.95 205.35 L319.17 204.25 L319.38 203.15 L319.59 202.05 L319.80 200.96 L320.01 199.86 L320.22 198.77 L320.44 197.68 L320.65 196.60 L320.86 195.52 L321.07 194.45 L321.28 193.39 L321.50 192.33 L321.71 191.29 L321.92 190.26 L322.13 189.24 L322.34 188.23 L322.55 187.23 L322.77 186.25 L322.98 185.29 L323.19 184.34 L323.40 183.41 L323.61 182.47 L323.83 181.51 L324.04 180.52 L324.25 179.52 L324.46 178.51 L324.67 177.49 L324.88 176.46 L325.10 175.44 L325.31 174.42 L325.52 173.41 L325.73 172.41 L325.94 171.44 L326.16 170.49 L326.37 169.57 L326.58 168.68 L326.79 167.83 L327.00 167.02 L327.21 166.25 L327.43 165.54 L327.64 164.89 L327.85 164.29 L328.06 163.76 L328.27 163.30 L328.49 162.92 L328.70 162.61 L328.91 162.35 L329.12 162.09 L329.33 161.84 L329.54 161.59 L329.76 161.35 L329.97 161.11 L330.18 160.89 L330.39 160.67 L330.60 160.46 L330.82 160.25 L331.03 160.06 L331.24 159.87 L331.45 159.69 L331.66 159.53 L331.88 159.37 L332.09 159.23 L332.30 159.09 L332.51 158.97 L332.72 158.86 L332.93 158.76 L333.15 158.68 L333.36 158.60 L333.57 158.54 L333.78 158.50 L333.99 158.47 L334.21 158.45 L334.42 158.45 L334.63 158.45 L334.84 158.45 L335.05 158.45 L335.26 158.45 L335.48 158.45 L335.69 158.45 L335.90 158.45 L336.11 158.45 L336.32 158.45 L336.54 158.45 L336.75 158.45 L336.96 158.45 L337.17 158.45 L337.38 158.45 L337.59 158.45 L337.81 158.45 L338.02 158.45 L338.23 158.45 L338.44 158.45 L338.65 158.45 L338.87 158.45 L339.08 158.45 L339.29 158.45 L339.50 158.45 L339.71 158.45 L339.92 158.45 L340.14 158.45 L340.35 158.45 L340.56 158.45 L340.77 158.45 L340.98 158.45 L341.20 158.45 L341.41 158.45 L341.62 158.45 L341.83 158.45 L342.04 158.45 L342.25 158.45 L342.47 158.45 L342.68 158.45 L342.89 158.45 L343.10 158.45 L343.31 158.45 L343.53 158.45 L343.74 158.45 L343.95 158.45 L344.16 158.45 L344.37 158.45 L344.59 158.45 L344.80 158.45 L345.01 158.45 L345.22 158.45 L345.43 158.45 L345.64 158.45 L345.86 158.45 L346.07 158.45 L346.28 158.45 L346.49 158.45 L346.70 158.45 L346.92 158.45 L347.13 158.45 L347.34 158.45 L347.55 158.45 L347.76 158.45 L347.97 158.45 L348.19 158.45 L348.40 158.45 L348.61 158.45 L348.82 158.45 L349.03 158.45 L349.25 158.45 L349.46 158.45 L349.67 158.45 L349.88 158.45 L350.09 158.45 L350.30 158.45 L350.52 158.45 L350.73 158.45 L350.94 158.45 L351.15 158.45 L351.36 158.45 L351.58 158.44 L351.79 158.43 L352.00 158.42 L352.21 158.41 L352.42 158.40 L352.63 158.39 L352.85 158.37 L353.06 158.35 L353.27 158.34 L353.48 158.32 L353.69 158.29 L353.91 158.27 L354.12 158.25 L354.33 158.22 L354.54 158.19 L354.75 158.16 L354.96 158.13 L355.18 158.10 L355.39 158.07 L355.60 158.04 L355.81 158.00 L356.02 157.97 L356.24 157.93 L356.45 157.89 L356.66 157.85 L356.87 157.81 L357.08 157.77 L357.29 157.73 L357.51 157.69 L357.72 157.64 L357.93 157.60 L358.14 157.55 L358.35 157.51 L358.57 157.46 L358.78 157.41 L358.99 157.37 L359.20 157.32 L359.41 157.27 L359.63 157.22 L359.84 157.17 L360.05 157.12 L360.26 157.07 L360.47 157.01 L360.68 156.96 L360.90 156.91 L361.11 156.86 L361.32 156.81 L361.53 156.75 L361.74 156.70 L361.96 156.65 L362.17 156.59 L362.38 156.54 L362.59 156.48 L362.80 156.43 L363.01 156.38 L363.23 156.32 L363.44 156.27 L363.65 156.22 L363.86 156.16 L364.07 156.11 L364.29 156.06 L364.50 156.00 L364.71 155.95 L364.92 155.90 L365.13 155.84 L365.34 155.79 L365.56 155.74 L365.77 155.69 L365.98 155.64 L366.19 155.59 L366.40 155.54 L366.62 155.49 L366.83 155.44 L367.04 155.39 L367.25 155.34 L367.46 155.28 L367.67 155.22 L367.89 155.17 L368.10 155.11 L368.31 155.05 L368.52 154.99 L368.73 154.92 L368.95 154.86 L369.16 154.80 L369.37 154.73 L369.58 154.66 L369.79 154.60 L370.00 154.53 L370.22 154.46 L370.43 154.39 L370.64 154.32 L370.85 154.25 L371.06 154.18 L371.28 154.11 L371.49 154.04 L371.70 153.96 L371.91 153.89 L372.12 153.82 L372.34 153.74 L372.55 153.67 L372.76 153.60 L372.97 153.52 L373.18 153.45 L373.39 153.37 L373.61 153.30 L373.82 153.23 L374.03 153.15 L374.24 153.08 L374.45 153.01 L374.67 152.93 L374.88 152.86 L375.09 152.79 L375.30 152.72 L375.51 152.65 L375.72 152.58 L375.94 152.51 L376.15 152.44 L376.36 152.37 L376.57 152.30 L376.78 152.23 L377.00 152.17 L377.21 152.10 L377.42 152.04 L377.63 151.98 L377.84 151.91 L378.05 151.85 L378.27 151.79 L378.48 151.73 L378.69 151.68 L378.90 151.62 L379.11 151.57 L379.33 151.51 L379.54 151.46 L379.75 151.41 L379.96 151.37 L380.17 151.32 L380.38 151.27 L380.60 151.23 L380.81 151.19 L381.02 151.15 L381.23 151.11 L381.44 151.08 L381.66 151.04 L381.87 151.00 L382.08 150.97 L382.29 150.93 L382.50 150.90 L382.72 150.86 L382.93 150.83 L383.14 150.79 L383.35 150.76 L383.56 150.73 L383.77 150.69 L383.99 150.66 L384.20 150.63 L384.41 150.59 L384.62 150.56 L384.83 150.53 L385.05 150.50 L385.26 150.47 L385.47 150.43 L385.68 150.40 L385.89 150.37 L386.10 150.34 L386.32 150.31 L386.53 150.28 L386.74 150.25 L386.95 150.22 L387.16 150.19 L387.38 150.16 L387.59 150.13 L387.80 150.10 L388.01 150.07 L388.22 150.04 L388.43 150.02 L388.65 149.99 L388.86 149.96 L389.07 149.93 L389.28 149.91 L389.49 149.88 L389.71 149.85 L389.92 149.82 L390.13 149.80 L390.34 149.77 L390.55 149.74 L390.76 149.72 L390.98 149.69 L391.19 149.67 L391.40 149.64 L391.61 149.61 L391.82 149.59 L392.04 149.56 L392.25 149.54 L392.46 149.51 L392.67 149.49 L392.88 149.47 L393.09 149.44 L393.31 149.42 L393.52 149.39 L393.73 149.37 L393.94 149.35 L394.15 149.32 L394.37 149.30 L394.58 149.27 L394.79 149.25 L395.00 149.23 L395.21 149.21 L395.43 149.18 L395.64 149.16 L395.85 149.14 L396.06 149.12 L396.27 149.09 L396.48 149.07 L396.70 149.05 L396.91 149.03 L397.12 149.01 L397.33 148.98 L397.54 148.96 L397.76 148.94 L397.97 148.92 L398.18 148.90 L398.39 148.88 L398.60 148.86 L398.81 148.84 L399.03 148.82 L399.24 148.80 L399.45 148.78 L399.66 148.76 L399.87 148.73 L400.09 148.71 L400.30 148.69 L400.51 148.67 L400.72 148.65 L400.93 148.63 L401.14 148.61 L401.36 148.60 L401.57 148.58 L401.78 148.56 L401.99 148.54 L402.20 148.52 L402.42 148.50 L402.63 148.48 L402.84 148.46 L403.05 148.44 L403.26 148.42 L403.47 148.40 L403.69 148.38 L403.90 148.36 L404.11 148.34 L404.32 148.33 L404.53 148.31 L404.75 148.29 L404.96 148.27 L405.17 148.25 L405.38 148.23 L405.59 148.21 L405.80 148.19 L406.02 148.18 L406.23 148.16 L406.44 148.14 L406.65 148.12 L406.86 148.10 L407.08 148.08 L407.29 148.07 L407.50 148.05 L407.71 148.03 L407.92 148.01 L408.13 147.99 L408.35 147.97 L408.56 147.95 L408.77 147.94 L408.98 147.92 L409.19 147.90 L409.41 147.88 L409.62 147.86 L409.83 147.84 L410.04 147.83 L410.25 147.81 L410.47 147.79 L410.68 147.77 L410.89 147.75 L411.10 147.73 L411.31 147.71 L411.52 147.70 L411.74 147.68 L411.95 147.66 L412.16 147.64 L412.37 147.62 L412.58 147.60 L412.80 147.58 L413.01 147.56 L413.22 147.54 L413.43 147.52 L413.64 147.50 L413.85 147.48 L414.07 147.46 L414.28 147.44 L414.49 147.42 L414.70 147.40 L414.91 147.37 L415.13 147.35 L415.34 147.33 L415.55 147.31 L415.76 147.29 L415.97 147.27 L416.18 147.25 L416.40 147.23 L416.61 147.21 L416.82 147.18 L417.03 147.16 L417.24 147.14 L417.46 147.12 L417.67 147.10 L417.88 147.08 L418.09 147.06 L418.30 147.04 L418.51 147.02 L418.73 147.00 L418.94 146.98 L419.15 146.96 L419.36 146.94 L419.57 146.92 L419.79 146.90 L420.00 146.88 L420.21 146.86 L420.42 146.84 L420.63 146.83 L420.85 146.81 L421.06 146.79 L421.27 146.77 L421.48 146.76 L421.69 146.74 L421.90 146.72 L422.12 146.71 L422.33 146.69 L422.54 146.68 L422.75 146.66 L422.96 146.65 L423.18 146.63 L423.39 146.62 L423.60 146.61 L423.81 146.59 L424.02 146.58 L424.23 146.57 L424.45 146.56 L424.66 146.55 L424.87 146.54 L425.08 146.53 L425.29 146.52 L425.51 146.51 L425.72 146.51 L425.93 146.50 L426.14 146.49 L426.35 146.49 L426.56 146.48 L426.78 146.48 L426.99 146.47 L427.20 146.47 L427.41 146.47 L427.62 146.47 L427.84 146.46 L428.05 146.46 L428.26 146.46 L428.47 146.46 L428.68 146.46 L428.89 146.46 L429.11 146.47 L429.32 146.47 L429.53 146.47 L429.74 146.47 L429.95 146.47 L430.17 146.47 L430.38 146.47 L430.59 146.47 L430.80 146.48 L431.01 146.48 L431.22 146.48 L431.44 146.48 L431.65 146.49 L431.86 146.49 L432.07 146.49 L432.28 146.50 L432.50 146.50 L432.71 146.51 L432.92 146.51 L433.13 146.52 L433.34 146.52 L433.56 146.53 L433.77 146.53 L433.98 146.54 L434.19 146.54 L434.40 146.55 L434.61 146.56 L434.83 146.56 L435.04 146.57 L435.25 146.58 L435.46 146.59 L435.67 146.60 L435.89 146.61 L436.10 146.62 L436.31 146.63 L436.52 146.64 L436.73 146.65 L436.94 146.66 L437.16 146.67 L437.37 146.68 L437.58 146.70 L437.79 146.71 L543.71 638.50 L649.62 638.50 L755.54 1005.50 L861.46 1005.50 L967.38 638.50 L1444.00 638.50" fill="none" stroke="#ff00ff" stroke-width="9" stroke-linejoin="round" stroke-linecap="butt" stroke-dasharray="9 6.6" shape-rendering="crispEdges"/>
<path d="M173.00 802.42 L173.21 801.44 L173.42 800.44 L173.64 799.44 L173.85 798.43 L174.06 797.40 L174.27 796.37 L174.48 795.34 L174.69 794.29 L174.91 793.24 L175.12 792.18 L175.33 791.11 L175.54 790.03 L175.75 788.95 L175.97 787.85 L176.18 786.76 L176.39 785.65 L176.60 784.54 L176.81 783.42 L177.02 782.30 L177.24 781.16 L177.45 780.03 L177.66 778.88 L177.87 777.74 L178.08 776.58 L178.30 775.42 L178.51 774.26 L178.72 773.09 L178.93 771.91 L179.14 770.73 L179.35 769.55 L179.57 768.36 L179.78 767.16 L179.99 765.96 L180.20 764.76 L180.41 763.56 L180.63 762.35 L180.84 761.13 L181.05 759.92 L181.26 758.70 L181.47 757.47 L181.69 756.25 L181.90 755.02 L182.11 753.79 L182.32 752.55 L182.53 751.32 L182.74 750.08 L182.96 748.84 L183.17 747.59 L183.38 746.35 L183.59 745.10 L183.80 743.86 L184.02 742.61 L184.23 741.36 L184.44 740.11 L184.65 738.85 L184.86 737.60 L185.07 736.35 L185.29 735.10 L185.50 733.84 L185.71 732.59 L185.92 731.33 L186.13 730.08 L186.35 728.83 L186.56 727.58 L186.77 726.33 L186.98 725.08 L187.19 723.83 L187.40 722.59 L187.62 721.34 L187.83 720.10 L188.04 718.86 L188.25 717.63 L188.46 716.39 L188.68 715.16 L188.89 713.94 L189.10 712.72 L189.31 711.50 L189.52 710.28 L189.73 709.07 L189.95 707.87 L190.16 706.67 L190.37 705.48 L190.58 704.29 L190.79 703.10 L191.01 701.93 L191.22 700.75 L191.43 699.59 L191.64 698.43 L191.85 697.28 L192.06 696.14 L192.28 695.00 L192.49 693.87 L192.70 692.75 L192.91 691.63 L193.12 690.53 L193.34 689.43 L193.55 688.34 L193.76 687.27 L193.97 686.20 L194.18 685.14 L194.40 684.09 L194.61 683.05 L194.82 682.02 L195.03 681.00 L195.24 679.99 L195.45 678.99 L195.67 678.01 L195.88 677.03 L196.09 676.07 L196.30 675.12 L196.51 674.18 L196.73 673.25 L196.94 672.34 L197.15 671.44 L197.36 670.55 L197.57 669.67 L197.78 668.81 L198.00 667.96 L198.21 667.13 L198.42 666.31 L198.63 665.50 L198.84 664.71 L199.06 663.92 L199.27 663.15 L199.48 662.40 L199.69 661.65 L199.90 660.92 L200.11 660.20 L200.33 659.49 L200.54 658.79 L200.75 658.10 L200.96 657.43 L201.17 656.76 L201.39 656.11 L201.60 655.47 L201.81 654.84 L202.02 654.22 L202.23 653.61 L202.44 653.01 L202.66 652.42 L202.87 651.84 L203.08 651.27 L203.29 650.70 L203.50 650.15 L203.72 649.61 L203.93 649.08 L204.14 648.56 L204.35 648.04 L204.56 647.53 L204.78 647.04 L204.99 646.55 L205.20 646.07 L205.41 645.59 L205.62 645.13 L205.83 644.67 L206.05 644.22 L206.26 643.78 L206.47 643.35 L206.68 642.92 L206.89 642.50 L207.11 642.09 L207.32 641.68 L207.53 641.28 L207.74 640.89 L207.95 640.50 L208.16 640.12 L208.38 639.74 L208.59 639.37 L208.80 639.01 L209.01 638.65 L209.22 638.30 L209.44 637.95 L209.65 637.61 L209.86 637.27 L210.07 636.94 L210.28 636.61 L210.49 636.28 L210.71 635.96 L210.92 635.65 L211.13 635.33 L211.34 635.03 L211.55 634.72 L211.77 634.42 L211.98 634.12 L212.19 633.83 L212.40 633.54 L212.61 633.25 L212.82 632.96 L213.04 632.68 L213.25 632.40 L213.46 632.13 L213.67 631.85 L213.88 631.58 L214.10 631.31 L214.31 631.05 L214.52 630.79 L214.73 630.53 L214.94 630.27 L215.15 630.02 L215.37 629.77 L215.58 629.52 L215.79 629.28 L216.00 629.04 L216.21 628.80 L216.43 628.57 L216.64 628.34 L216.85 628.11 L217.06 627.89 L217.27 627.67 L217.49 627.45 L217.70 627.24 L217.91 627.03 L218.12 626.82 L218.33 626.62 L218.54 626.42 L218.76 626.22 L218.97 626.03 L219.18 625.84 L219.39 625.66 L219.60 625.48 L219.82 625.30 L220.03 625.12 L220.24 624.95 L220.45 624.79 L220.66 624.62 L220.87 624.47 L221.09 624.31 L221.30 624.16 L221.51 624.01 L221.72 623.87 L221.93 623.73 L222.15 623.59 L222.36 623.46 L222.57 623.33 L222.78 623.21 L222.99 623.09 L223.20 622.98 L223.42 622.86 L223.63 622.76 L223.84 622.65 L224.05 622.55 L224.26 622.46 L224.48 622.37 L224.69 622.28 L224.90 622.20 L225.11 622.12 L225.32 622.05 L225.53 621.98 L225.75 621.92 L225.96 621.86 L226.17 620.80 L226.38 619.74 L226.59 618.68 L226.81 617.62 L227.02 616.56 L227.23 615.50 L227.44 614.44 L227.65 613.38 L227.86 612.32 L228.08 611.26 L228.29 610.19 L228.50 609.13 L228.71 608.07 L228.92 607.01 L229.14 605.95 L229.35 604.89 L229.56 603.83 L229.77 602.77 L229.98 601.71 L230.19 600.65 L230.41 599.58 L230.62 598.52 L230.83 597.46 L231.04 596.40 L231.25 595.34 L231.47 594.28 L231.68 593.22 L231.89 592.16 L232.10 591.11 L232.31 590.05 L232.53 589.00 L232.74 587.95 L232.95 586.91 L233.16 585.87 L233.37 584.83 L233.58 583.79 L233.80 582.76 L234.01 581.72 L234.22 580.69 L234.43 579.65 L234.64 578.60 L234.86 577.56 L235.07 576.51 L235.28 575.45 L235.49 574.39 L235.70 573.32 L235.91 572.24 L236.13 571.16 L236.34 570.07 L236.55 568.99 L236.76 567.90 L236.97 566.81 L237.19 565.71 L237.40 564.61 L237.61 563.51 L237.82 562.39 L238.03 561.26 L238.24 560.12 L238.46 558.97 L238.67 557.81 L238.88 556.62 L239.09 555.42 L239.30 554.21 L239.52 552.96 L239.73 551.70 L239.94 550.42 L240.15 549.12 L240.36 547.80 L240.57 546.47 L240.79 545.13 L241.00 543.78 L241.21 542.42 L241.42 541.06 L241.63 539.69 L241.85 538.32 L242.06 536.96 L242.27 535.57 L242.48 534.16 L242.69 532.72 L242.91 531.26 L243.12 529.79 L243.33 528.31 L243.54 526.84 L243.75 525.37 L243.96 523.91 L244.18 522.48 L244.39 521.07 L244.60 519.70 L244.81 518.37 L245.02 517.09 L245.24 515.86 L245.45 514.68 L245.66 513.53 L245.87 512.43 L246.08 511.35 L246.29 510.31 L246.51 509.28 L246.72 508.27 L246.93 507.27 L247.14 506.28 L247.35 505.29 L247.57 504.30 L247.78 503.30 L247.99 502.28 L248.20 501.25 L248.41 500.20 L248.62 499.12 L248.84 498.01 L249.05 496.86 L249.26 495.68 L249.47 494.46 L249.68 493.23 L249.90 491.97 L250.11 490.69 L250.32 489.39 L250.53 488.07 L250.74 486.73 L250.95 485.38 L251.17 484.02 L251.38 482.65 L251.59 481.27 L251.80 479.88 L252.01 478.48 L252.23 477.09 L252.44 475.69 L252.65 474.29 L252.86 472.89 L253.07 471.49 L253.28 470.10 L253.50 468.72 L253.71 467.35 L253.92 465.98 L254.13 464.63 L254.34 463.29 L254.56 461.97 L254.77 460.66 L254.98 459.36 L255.19 458.05 L255.40 456.74 L255.62 455.44 L255.83 454.13 L256.04 452.82 L256.25 451.52 L256.46 450.21 L256.67 448.91 L256.89 447.61 L257.10 446.31 L257.31 445.01 L257.52 443.72 L257.73 442.43 L257.95 441.15 L258.16 439.86 L258.37 438.59 L258.58 437.32 L258.79 436.05 L259.00 434.79 L259.22 433.54 L259.43 432.29 L259.64 431.05 L259.85 429.82 L260.06 428.59 L260.28 427.37 L260.49 426.17 L260.70 424.97 L260.91 423.78 L261.12 422.60 L261.33 421.43 L261.55 420.27 L261.76 419.12 L261.97 417.97 L262.18 416.83 L262.39 415.70 L262.61 414.58 L262.82 413.46 L263.03 412.35 L263.24 411.25 L263.45 410.15 L263.66 409.06 L263.88 407.97 L264.09 406.89 L264.30 405.81 L264.51 404.74 L264.72 403.67 L264.94 402.61 L265.15 401.55 L265.36 400.50 L265.57 399.44 L265.78 398.40 L265.99 397.35 L266.21 396.31 L266.42 395.27 L266.63 394.23 L266.84 393.20 L267.05 392.17 L267.27 391.14 L267.48 390.11 L267.69 389.08 L267.90 388.05 L268.11 387.03 L268.32 386.00 L268.54 384.98 L268.75 383.95 L268.96 382.93 L269.17 381.91 L269.38 380.88 L269.60 379.86 L269.81 378.83 L270.02 377.81 L270.23 376.78 L270.44 375.76 L270.66 374.74 L270.87 373.72 L271.08 372.71 L271.29 371.69 L271.50 370.67 L271.71 369.66 L271.93 368.65 L272.14 367.64 L272.35 366.63 L272.56 365.62 L272.77 364.62 L272.99 363.62 L273.20 362.62 L273.41 361.62 L273.62 360.63 L273.83 359.64 L274.04 358.65 L274.26 357.66 L274.47 356.68 L274.68 355.70 L274.89 354.72 L275.10 353.74 L275.32 352.77 L275.53 351.80 L275.74 350.84 L275.95 349.88 L276.16 348.92 L276.37 347.97 L276.59 347.02 L276.80 346.07 L277.01 345.13 L277.22 344.19 L277.43 343.26 L277.65 342.33 L277.86 341.40 L278.07 340.48 L278.28 339.56 L278.49 338.64 L278.70 337.72 L278.92 336.81 L279.13 335.90 L279.34 335.00 L279.55 334.09 L279.76 333.19 L279.98 332.30 L280.19 331.40 L280.40 330.51 L280.61 329.62 L280.82 328.74 L281.03 327.85 L281.25 326.97 L281.46 326.10 L281.67 325.22 L281.88 324.35 L282.09 323.49 L282.31 322.62 L282.52 321.76 L282.73 320.90 L282.94 320.05 L283.15 319.20 L283.37 318.35 L283.58 317.51 L283.79 316.67 L284.00 315.83 L284.21 314.99 L284.42 314.16 L284.64 313.33 L284.85 312.51 L285.06 311.69 L285.27 310.87 L285.48 310.05 L285.70 309.23 L285.91 308.42 L286.12 307.60 L286.33 306.79 L286.54 305.98 L286.75 305.17 L286.97 304.36 L287.18 303.56 L287.39 302.75 L287.60 301.95 L287.81 301.16 L288.03 300.36 L288.24 299.57 L288.45 298.79 L288.66 298.00 L288.87 297.22 L289.08 296.45 L289.30 295.68 L289.51 294.91 L289.72 294.15 L289.93 293.39 L290.14 292.64 L290.36 291.89 L290.57 291.15 L290.78 290.41 L290.99 289.68 L291.20 288.96 L291.41 288.24 L291.63 287.52 L291.84 286.82 L292.05 286.12 L292.26 285.42 L292.47 284.74 L292.69 284.06 L292.90 283.38 L293.11 282.71 L293.32 282.05 L293.53 281.39 L293.75 280.74 L293.96 280.09 L294.17 279.45 L294.38 278.81 L294.59 278.18 L294.80 277.55 L295.02 276.92 L295.23 276.30 L295.44 275.68 L295.65 275.07 L295.86 274.46 L296.08 273.85 L296.29 273.24 L296.50 272.64 L296.71 272.04 L296.92 271.44 L297.13 270.84 L297.35 270.25 L297.56 269.66 L297.77 269.07 L297.98 268.48 L298.19 267.89 L298.41 267.30 L298.62 266.71 L298.83 266.13 L299.04 265.54 L299.25 264.96 L299.46 264.37 L299.68 263.79 L299.89 263.20 L300.10 262.61 L300.31 262.03 L300.52 261.44 L300.74 260.85 L300.95 260.26 L301.16 259.67 L301.37 259.08 L301.58 258.50 L301.79 257.91 L302.01 257.33 L302.22 256.75 L302.43 256.17 L302.64 255.59 L302.85 255.02 L303.07 254.44 L303.28 253.87 L303.49 253.30 L303.70 252.72 L303.91 252.15 L304.12 251.58 L304.34 251.01 L304.55 250.45 L304.76 249.88 L304.97 249.31 L305.18 248.75 L305.40 248.18 L305.61 247.61 L305.82 247.05 L306.03 246.48 L306.24 245.92 L306.46 245.35 L306.67 244.78 L306.88 244.22 L307.09 243.65 L307.30 243.09 L307.51 242.52 L307.73 241.96 L307.94 241.40 L308.15 240.84 L308.36 240.28 L308.57 239.72 L308.79 239.16 L309.00 238.61 L309.21 238.06 L309.42 237.50 L309.63 236.95 L309.84 236.40 L310.06 235.85 L310.27 235.29 L310.48 234.74 L310.69 234.19 L310.90 233.64 L311.12 233.08 L311.33 232.53 L311.54 231.98 L311.75 231.42 L311.96 230.86 L312.17 230.31 L312.39 229.75 L312.60 229.19 L312.81 228.62 L313.02 228.06 L313.23 227.49 L313.45 226.92 L313.66 226.35 L313.87 225.78 L314.08 225.20 L314.29 224.62 L314.50 224.04 L314.72 223.45 L314.93 222.86 L315.14 222.27 L315.35 221.68 L315.56 221.09 L315.78 220.49 L315.99 219.89 L316.20 219.29 L316.41 218.69 L316.62 218.09 L316.83 217.48 L317.05 216.87 L317.26 216.26 L317.47 215.65 L317.68 215.04 L317.89 214.43 L318.11 213.81 L318.32 213.19 L318.53 212.57 L318.74 211.95 L318.95 211.33 L319.17 210.71 L319.38 210.09 L319.59 209.46 L319.80 208.83 L320.01 208.21 L320.22 207.58 L320.44 206.95 L320.65 206.32 L320.86 205.69 L321.07 205.05 L321.28 204.42 L321.50 203.79 L321.71 203.15 L321.92 202.51 L322.13 201.87 L322.34 201.24 L322.55 200.59 L322.77 199.95 L322.98 199.31 L323.19 198.67 L323.40 198.02 L323.61 197.37 L323.83 196.72 L324.04 196.07 L324.25 195.42 L324.46 194.77 L324.67 194.11 L324.88 193.45 L325.10 192.79 L325.31 192.13 L325.52 191.47 L325.73 190.80 L325.94 190.14 L326.16 189.47 L326.37 188.79 L326.58 188.12 L326.79 187.44 L327.00 186.77 L327.21 186.08 L327.43 185.40 L327.64 184.71 L327.85 184.03 L328.06 183.33 L328.27 182.64 L328.49 181.94 L328.70 181.24 L328.91 180.54 L329.12 179.83 L329.33 179.12 L329.54 178.41 L329.76 177.70 L329.97 176.98 L330.18 176.26 L330.39 175.54 L330.60 174.82 L330.82 174.10 L331.03 173.37 L331.24 172.64 L331.45 171.91 L331.66 171.18 L331.88 170.44 L332.09 170.60 L332.30 170.76 L332.51 170.93 L332.72 171.09 L332.93 171.25 L333.15 171.42 L333.36 171.59 L333.57 171.75 L333.78 171.92 L333.99 172.09 L334.21 172.26 L334.42 172.43 L334.63 172.60 L334.84 172.78 L335.05 172.95 L335.26 173.13 L335.48 173.30 L335.69 173.48 L335.90 173.66 L336.11 173.83 L336.32 174.01 L336.54 174.19 L336.75 174.37 L336.96 174.56 L337.17 174.74 L337.38 174.92 L337.59 175.10 L337.81 175.29 L338.02 175.49 L338.23 175.69 L338.44 175.90 L338.65 176.12 L338.87 176.34 L339.08 176.57 L339.29 176.80 L339.50 177.04 L339.71 177.27 L339.92 177.51 L340.14 177.74 L340.35 177.97 L340.56 178.20 L340.77 178.42 L340.98 178.64 L341.20 178.85 L341.41 179.06 L341.62 179.25 L341.83 179.44 L342.04 179.61 L342.25 179.78 L342.47 179.93 L342.68 180.06 L342.89 180.18 L343.10 180.29 L343.31 180.38 L343.53 180.47 L343.74 180.55 L343.95 180.64 L344.16 180.73 L344.37 180.81 L344.59 180.89 L344.80 180.97 L345.01 181.05 L345.22 181.13 L345.43 181.21 L345.64 181.28 L345.86 181.36 L346.07 181.43 L346.28 181.50 L346.49 181.56 L346.70 181.63 L346.92 181.69 L347.13 181.75 L347.34 181.81 L347.55 181.86 L347.76 181.91 L347.97 181.96 L348.19 182.01 L348.40 182.05 L348.61 182.09 L348.82 182.13 L349.03 182.16 L349.25 182.19 L349.46 182.21 L349.67 182.23 L349.88 182.25 L350.09 182.27 L350.30 182.28 L350.52 182.28 L350.73 182.28 L350.94 182.28 L351.15 182.27 L351.36 182.26 L351.58 182.25 L351.79 182.23 L352.00 182.21 L352.21 182.18 L352.42 182.15 L352.63 182.12 L352.85 182.09 L353.06 182.05 L353.27 182.01 L353.48 181.96 L353.69 181.91 L353.91 181.86 L354.12 181.81 L354.33 181.75 L354.54 181.69 L354.75 181.63 L354.96 181.57 L355.18 181.50 L355.39 181.43 L355.60 181.36 L355.81 181.29 L356.02 181.21 L356.24 181.14 L356.45 181.06 L356.66 180.98 L356.87 180.90 L357.08 180.81 L357.29 180.73 L357.51 180.64 L357.72 180.55 L357.93 180.46 L358.14 180.37 L358.35 180.28 L358.57 180.19 L358.78 180.10 L358.99 180.00 L359.20 179.91 L359.41 179.81 L359.63 179.71 L359.84 179.62 L360.05 179.52 L360.26 179.42 L360.47 179.32 L360.68 179.23 L360.90 179.13 L361.11 179.03 L361.32 178.93 L361.53 178.84 L361.74 178.74 L361.96 178.64 L362.17 178.54 L362.38 178.44 L362.59 178.34 L362.80 178.23 L363.01 178.11 L363.23 178.00 L363.44 177.87 L363.65 177.75 L363.86 177.62 L364.07 177.49 L364.29 177.35 L364.50 177.21 L364.71 177.07 L364.92 176.93 L365.13 176.78 L365.34 176.63 L365.56 176.47 L365.77 176.32 L365.98 176.16 L366.19 175.99 L366.40 175.83 L366.62 175.66 L366.83 175.49 L367.04 175.32 L367.25 175.15 L367.46 174.98 L367.67 174.80 L367.89 174.62 L368.10 174.44 L368.31 174.26 L368.52 174.08 L368.73 173.90 L368.95 173.71 L369.16 173.52 L369.37 173.34 L369.58 173.15 L369.79 172.96 L370.00 172.77 L370.22 172.58 L370.43 172.39 L370.64 172.20 L370.85 172.01 L371.06 171.82 L371.28 171.63 L371.49 171.44 L371.70 171.24 L371.91 171.05 L372.12 170.86 L372.34 170.67 L372.55 170.48 L372.76 170.29 L372.97 170.11 L373.18 169.92 L373.39 169.73 L373.61 169.55 L373.82 169.36 L374.03 169.18 L374.24 169.00 L374.45 168.82 L374.67 168.64 L374.88 168.46 L375.09 168.28 L375.30 168.11 L375.51 167.93 L375.72 167.76 L375.94 167.58 L376.15 167.40 L376.36 167.22 L376.57 167.04 L376.78 166.87 L377.00 166.69 L377.21 166.51 L377.42 166.33 L377.63 166.14 L377.84 165.96 L378.05 165.78 L378.27 165.60 L378.48 165.42 L378.69 165.23 L378.90 165.05 L379.11 164.87 L379.33 164.68 L379.54 164.50 L379.75 164.32 L379.96 164.13 L380.17 163.95 L380.38 163.76 L380.60 163.58 L380.81 163.39 L381.02 163.21 L381.23 163.02 L381.44 162.84 L381.66 162.65 L381.87 162.46 L382.08 162.28 L382.29 162.09 L382.50 161.91 L382.72 161.72 L382.93 161.53 L383.14 161.35 L383.35 161.16 L383.56 160.97 L383.77 160.79 L383.99 160.60 L384.20 160.41 L384.41 160.23 L384.62 160.04 L384.83 159.85 L385.05 159.67 L385.26 159.48 L385.47 159.30 L385.68 159.11 L385.89 158.92 L386.10 158.74 L386.32 158.55 L386.53 158.37 L386.74 158.18 L386.95 158.00 L387.16 157.81 L387.38 157.63 L387.59 157.44 L387.80 157.26 L388.01 157.08 L388.22 156.89 L388.43 156.71 L388.65 156.52 L388.86 156.33 L389.07 156.14 L389.28 155.95 L389.49 155.76 L389.71 155.57 L389.92 155.38 L390.13 155.18 L390.34 154.99 L390.55 154.79 L390.76 154.60 L390.98 154.40 L391.19 154.20 L391.40 154.01 L391.61 153.81 L391.82 153.61 L392.04 153.41 L392.25 153.21 L392.46 153.02 L392.67 152.82 L392.88 152.62 L393.09 152.42 L393.31 152.22 L393.52 152.03 L393.73 151.83 L393.94 151.63 L394.15 151.44 L394.37 151.24 L394.58 151.05 L394.79 150.85 L395.00 150.66 L395.21 150.47 L395.43 150.28 L395.64 150.09 L395.85 149.90 L396.06 149.71 L396.27 149.52 L396.48 149.34 L396.70 149.15 L396.91 148.97 L397.12 148.79 L397.33 148.61 L397.54 148.43 L397.76 148.26 L397.97 148.08 L398.18 147.91 L398.39 147.74 L398.60 147.57 L398.81 147.41 L399.03 147.24 L399.24 147.08 L399.45 146.92 L399.66 146.76 L399.87 146.61 L400.09 146.46 L400.30 146.31 L400.51 146.16 L400.72 146.01 L400.93 145.87 L401.14 145.73 L401.36 145.59 L401.57 145.45 L401.78 145.31 L401.99 145.17 L402.20 145.03 L402.42 144.89 L402.63 144.75 L402.84 144.61 L403.05 144.46 L403.26 144.32 L403.47 144.18 L403.69 144.04 L403.90 143.90 L404.11 143.75 L404.32 143.61 L404.53 143.47 L404.75 143.33 L404.96 143.19 L405.17 143.05 L405.38 142.92 L405.59 142.78 L405.80 142.64 L406.02 142.51 L406.23 142.38 L406.44 142.24 L406.65 142.11 L406.86 141.98 L407.08 141.85 L407.29 141.73 L407.50 141.60 L407.71 141.48 L407.92 141.36 L408.13 141.24 L408.35 141.12 L408.56 141.00 L408.77 140.89 L408.98 140.78 L409.19 140.67 L409.41 140.56 L409.62 140.46 L409.83 140.35 L410.04 140.25 L410.25 140.16 L410.47 140.06 L410.68 139.97 L410.89 139.88 L411.10 139.80 L411.31 139.71 L411.52 139.63 L411.74 139.56 L411.95 139.48 L412.16 139.41 L412.37 139.35 L412.58 139.28 L412.80 139.22 L413.01 139.17 L413.22 139.12 L413.43 139.07 L413.64 139.03 L413.85 138.98 L414.07 138.95 L414.28 138.91 L414.49 138.88 L414.70 138.85 L414.91 138.81 L415.13 138.78 L415.34 138.75 L415.55 138.71 L415.76 138.68 L415.97 138.65 L416.18 138.62 L416.40 138.59 L416.61 138.56 L416.82 138.53 L417.03 138.50 L417.24 138.47 L417.46 138.44 L417.67 138.41 L417.88 138.38 L418.09 138.35 L418.30 138.33 L418.51 138.30 L418.73 138.27 L418.94 138.25 L419.15 138.22 L419.36 138.20 L419.57 138.17 L419.79 138.15 L420.00 138.12 L420.21 138.10 L420.42 138.08 L420.63 138.06 L420.85 138.04 L421.06 138.02 L421.27 138.00 L421.48 137.98 L421.69 137.96 L421.90 137.94 L422.12 137.92 L422.33 137.91 L422.54 137.89 L422.75 137.88 L422.96 137.86 L423.18 137.85 L423.39 137.83 L423.60 137.82 L423.81 137.81 L424.02 137.80 L424.23 137.79 L424.45 137.78 L424.66 137.77 L424.87 137.76 L425.08 137.76 L425.29 137.75 L425.51 137.74 L425.72 137.74 L425.93 137.74 L426.14 137.73 L426.35 137.73 L426.56 137.73 L426.78 137.73 L426.99 137.73 L427.20 137.73 L427.41 137.73 L427.62 137.73 L427.84 137.73 L428.05 137.73 L428.26 137.73 L428.47 137.73 L428.68 137.73 L428.89 137.74 L429.11 137.74 L429.32 137.74 L429.53 137.74 L429.74 137.74 L429.95 137.75 L430.17 137.75 L430.38 137.75 L430.59 137.76 L430.80 137.76 L431.01 137.77 L431.22 137.77 L431.44 137.78 L431.65 137.78 L431.86 137.79 L432.07 137.79 L432.28 137.80 L432.50 137.81 L432.71 137.81 L432.92 137.82 L433.13 137.83 L433.34 137.84 L433.56 137.85 L433.77 137.86 L433.98 137.87 L434.19 137.88 L434.40 137.89 L434.61 137.90 L434.83 137.91 L435.04 137.92 L435.25 137.94 L435.46 137.95 L435.67 137.97 L435.89 137.98 L436.10 138.00 L436.31 138.01 L436.52 138.03 L436.73 138.05 L436.94 138.07 L437.16 138.08 L437.37 138.10 L437.58 138.12 L437.79 138.14 L543.71 638.50 L649.62 638.50 L755.54 1005.50 L861.46 1005.50 L967.38 638.50 L1444.00 638.50" fill="none" stroke="#00ff00" stroke-width="9" stroke-linejoin="round" stroke-linecap="butt" shape-rendering="crispEdges"/>
<g font-family="'Liberation Serif', serif" font-size="57" fill="#262626"><text x="174.00" y="1084.2" text-anchor="middle">0</text>
<text x="385.50" y="1084.2" text-anchor="middle">20</text>
<text x="597.00" y="1084.2" text-anchor="middle">40</text>
<text x="808.50" y="1084.2" text-anchor="middle">60</text>
<text x="1020.00" y="1084.2" text-anchor="middle">80</text>
<text x="1231.50" y="1084.2" text-anchor="middle">100</text>
<text x="1443.00" y="1084.2" text-anchor="middle">120</text>
<text x="155.5" y="1026.40" text-anchor="end">0</text>
<text x="155.5" y="904.00" text-anchor="end">5</text>
<text x="155.5" y="781.60" text-anchor="end">10</text>
<text x="155.5" y="659.20" text-anchor="end">15</text>
<text x="155.5" y="536.80" text-anchor="end">20</text>
<text x="155.5" y="414.40" text-anchor="end">25</text>
<text x="155.5" y="292.00" text-anchor="end">30</text>
<text x="155.5" y="169.60" text-anchor="end">35</text></g>
<rect x="603" y="190" width="791" height="392" fill="#ffffff" stroke="none"/>
<rect x="603" y="190" width="791" height="392" fill="none" stroke="#262626" stroke-width="2"/>
<g stroke="#262626" stroke-width="2"><line x1="603.00" y1="582" x2="603.00" y2="574"/>
<line x1="603.00" y1="190" x2="603.00" y2="198"/>
<line x1="603" y1="582.00" x2="611" y2="582.00"/>
<line x1="1394" y1="582.00" x2="1386" y2="582.00"/>
<line x1="761.20" y1="582" x2="761.20" y2="574"/>
<line x1="761.20" y1="190" x2="761.20" y2="198"/>
<line x1="603" y1="503.60" x2="611" y2="503.60"/>
<line x1="1394" y1="503.60" x2="1386" y2="503.60"/>
<line x1="919.40" y1="582" x2="919.40" y2="574"/>
<line x1="919.40" y1="190" x2="919.40" y2="198"/>
<line x1="603" y1="425.20" x2="611" y2="425.20"/>
<line x1="1394" y1="425.20" x2="1386" y2="425.20"/>
<line x1="1077.60" y1="582" x2="1077.60" y2="574"/>
<line x1="1077.60" y1="190" x2="1077.60" y2="198"/>
<line x1="603" y1="346.80" x2="611" y2="346.80"/>
<line x1="1394" y1="346.80" x2="1386" y2="346.80"/>
<line x1="1235.80" y1="582" x2="1235.80" y2="574"/>
<line x1="1235.80" y1="190" x2="1235.80" y2="198"/>
<line x1="603" y1="268.40" x2="611" y2="268.40"/>
<line x1="1394" y1="268.40" x2="1386" y2="268.40"/>
<line x1="1394.00" y1="582" x2="1394.00" y2="574"/>
<line x1="1394.00" y1="190" x2="1394.00" y2="198"/>
<line x1="603" y1="190.00" x2="611" y2="190.00"/>
<line x1="1394" y1="190.00" x2="1386" y2="190.00"/></g>
<path d="M602.30 386.30 L998.30 386.30 L1196.30 190.30" fill="none" stroke="#ffff00" stroke-width="9" stroke-linejoin="round" stroke-linecap="butt" shape-rendering="crispEdges"/>
<path d="M602.30 463.92 L603.88 462.90 L605.47 461.89 L607.05 460.89 L608.64 459.89 L610.22 458.90 L611.80 457.92 L613.39 456.94 L614.97 455.97 L616.56 455.00 L618.14 454.04 L619.72 453.09 L621.31 452.14 L622.89 451.20 L624.48 450.26 L626.06 449.33 L627.64 448.41 L629.23 447.49 L630.81 446.58 L632.40 445.68 L633.98 444.78 L635.56 443.88 L637.15 443.00 L638.73 442.12 L640.32 441.24 L641.90 440.37 L643.48 439.51 L645.07 438.65 L646.65 437.80 L648.24 436.96 L649.82 436.12 L651.40 435.28 L652.99 434.45 L654.57 433.63 L656.16 432.82 L657.74 432.01 L659.32 431.20 L660.91 430.40 L662.49 429.61 L664.08 428.82 L665.66 428.04 L667.24 427.27 L668.83 426.50 L670.41 425.73 L672.00 424.97 L673.58 424.22 L675.16 423.47 L676.75 422.73 L678.33 421.99 L679.92 421.26 L681.50 420.54 L683.08 419.82 L684.67 419.10 L686.25 418.40 L687.84 417.69 L689.42 417.00 L691.00 416.30 L692.59 415.62 L694.17 414.94 L695.76 414.26 L697.34 413.59 L698.92 412.93 L700.51 412.27 L702.09 411.62 L703.68 410.97 L705.26 410.32 L706.84 409.69 L708.43 409.05 L710.01 408.43 L711.60 407.81 L713.18 407.19 L714.76 406.58 L716.35 405.97 L717.93 405.37 L719.52 404.78 L721.10 404.19 L722.68 403.60 L724.27 403.02 L725.85 402.45 L727.44 401.88 L729.02 401.32 L730.60 400.76 L732.19 400.21 L733.77 399.66 L735.36 399.11 L736.94 398.58 L738.52 398.04 L740.11 397.51 L741.69 396.99 L743.28 396.47 L744.86 395.96 L746.44 395.45 L748.03 394.95 L749.61 394.45 L751.20 393.96 L752.78 393.47 L754.36 392.99 L755.95 392.51 L757.53 392.03 L759.12 391.57 L760.70 391.10 L762.28 390.64 L763.87 390.19 L765.45 389.74 L767.04 389.30 L768.62 388.86 L770.20 388.42 L771.79 387.99 L773.37 387.57 L774.96 387.15 L776.54 386.73 L778.12 386.32 L779.71 385.92 L781.29 385.51 L782.88 385.12 L784.46 384.72 L786.04 384.34 L787.63 383.95 L789.21 383.58 L790.80 383.20 L792.38 382.83 L793.96 382.47 L795.55 382.11 L797.13 381.75 L798.72 381.40 L800.30 381.06 L801.88 380.72 L803.47 380.38 L805.05 380.05 L806.64 379.72 L808.22 379.39 L809.80 379.07 L811.39 378.76 L812.97 378.45 L814.56 378.14 L816.14 377.84 L817.72 377.54 L819.31 377.25 L820.89 376.96 L822.48 376.68 L824.06 376.40 L825.64 376.12 L827.23 375.85 L828.81 375.58 L830.40 375.32 L831.98 375.06 L833.56 374.81 L835.15 374.56 L836.73 374.31 L838.32 374.07 L839.90 373.83 L841.48 373.60 L843.07 373.37 L844.65 373.14 L846.24 372.92 L847.82 372.70 L849.40 372.49 L850.99 372.28 L852.57 372.08 L854.16 371.88 L855.74 371.68 L857.32 371.49 L858.91 371.30 L860.49 371.11 L862.08 370.93 L863.66 370.76 L865.24 370.58 L866.83 370.41 L868.41 370.25 L870.00 370.09 L871.58 369.93 L873.16 369.78 L874.75 369.63 L876.33 369.48 L877.92 369.34 L879.50 369.20 L881.08 369.07 L882.67 368.94 L884.25 368.81 L885.84 368.69 L887.42 368.57 L889.00 368.45 L890.59 368.34 L892.17 368.23 L893.76 368.13 L895.34 368.03 L896.92 367.93 L898.51 367.83 L900.09 367.74 L901.68 367.66 L903.26 367.58 L904.84 367.50 L906.43 367.42 L908.01 367.35 L909.60 367.28 L911.18 367.22 L912.76 367.15 L914.35 367.10 L915.93 367.04 L917.52 366.99 L919.10 366.94 L920.68 366.90 L922.27 366.86 L923.85 366.82 L925.44 366.79 L927.02 366.76 L928.60 366.73 L930.19 366.71 L931.77 366.69 L933.36 366.67 L934.94 366.66 L936.52 366.64 L938.11 366.64 L939.69 366.63 L941.28 366.63 L942.86 366.64 L944.44 366.64 L946.03 366.65 L947.61 366.66 L949.20 366.68 L950.78 366.70 L952.36 366.72 L953.95 366.74 L955.53 366.77 L957.12 366.80 L958.70 366.84 L960.28 366.87 L961.87 366.92 L963.45 366.96 L965.04 367.01 L966.62 367.05 L968.20 367.11 L969.79 367.16 L971.37 367.22 L972.96 367.28 L974.54 367.35 L976.12 367.41 L977.71 367.49 L979.29 367.56 L980.88 367.63 L982.46 367.71 L984.04 367.80 L985.63 367.88 L987.21 367.97 L988.80 368.06 L990.38 368.15 L991.96 368.25 L993.55 368.35 L995.13 368.45 L996.72 368.55 L998.30 368.66 L999.88 366.94 L1001.47 365.24 L1003.05 363.54 L1004.64 361.84 L1006.22 360.16 L1007.80 358.48 L1009.39 356.82 L1010.97 355.16 L1012.56 353.52 L1014.14 351.89 L1015.72 350.26 L1017.31 348.65 L1018.89 347.05 L1020.48 345.47 L1022.06 343.90 L1023.64 342.34 L1025.23 340.79 L1026.81 339.26 L1028.40 337.74 L1029.98 336.25 L1031.56 334.76 L1033.15 333.30 L1034.73 331.84 L1036.32 330.40 L1037.90 328.97 L1039.48 327.55 L1041.07 326.14 L1042.65 324.73 L1044.24 323.34 L1045.82 321.95 L1047.40 320.56 L1048.99 319.18 L1050.57 317.80 L1052.16 316.43 L1053.74 315.05 L1055.32 313.68 L1056.91 312.30 L1058.49 310.92 L1060.08 309.54 L1061.66 308.15 L1063.24 306.76 L1064.83 305.36 L1066.41 303.95 L1068.00 302.53 L1069.58 301.11 L1071.16 299.67 L1072.75 298.22 L1074.33 296.78 L1075.92 295.33 L1077.50 293.88 L1079.08 292.43 L1080.67 290.97 L1082.25 289.52 L1083.84 288.06 L1085.42 286.59 L1087.00 285.13 L1088.59 283.66 L1090.17 282.20 L1091.76 280.72 L1093.34 279.25 L1094.92 277.77 L1096.51 276.29 L1098.09 274.81 L1099.68 273.33 L1101.26 271.84 L1102.84 270.35 L1104.43 268.85 L1106.01 267.36 L1107.60 265.86 L1109.18 264.36 L1110.76 262.85 L1112.35 261.34 L1113.93 259.83 L1115.52 258.31 L1117.10 256.80 L1118.68 255.28 L1120.27 253.75 L1121.85 252.23 L1123.44 250.70 L1125.02 249.16 L1126.60 247.63 L1128.19 246.09 L1129.77 244.55 L1131.36 243.01 L1132.94 241.47 L1134.52 239.92 L1136.11 238.38 L1137.69 236.83 L1139.28 235.28 L1140.86 233.72 L1142.44 232.17 L1144.03 230.61 L1145.61 229.06 L1147.20 227.50 L1148.78 225.94 L1150.36 224.38 L1151.95 222.82 L1153.53 221.25 L1155.12 219.69 L1156.70 218.12 L1158.28 216.56 L1159.87 214.99 L1161.45 213.43 L1163.04 211.86 L1164.62 210.29 L1166.20 208.72 L1167.79 207.14 L1169.37 205.56 L1170.96 203.98 L1172.54 202.39 L1174.12 200.80 L1175.71 199.21 L1177.29 197.62 L1178.88 196.02 L1180.46 194.43 L1182.04 192.84 L1183.63 191.24 L1184.56 190.30" fill="none" stroke="#ff0000" stroke-width="9" stroke-linejoin="round" stroke-linecap="butt" stroke-dasharray="32 31" shape-rendering="crispEdges"/>
<path d="M602.30 503.90 L603.88 503.59 L605.47 503.25 L607.05 502.91 L608.64 502.54 L610.22 502.16 L611.80 501.76 L613.39 501.35 L614.97 500.92 L616.56 500.48 L618.14 500.02 L619.72 499.54 L621.31 499.05 L622.89 498.55 L624.48 498.03 L626.06 497.50 L627.64 496.95 L629.23 496.40 L630.81 495.82 L632.40 495.24 L633.98 494.64 L635.56 494.03 L637.15 493.41 L638.73 492.77 L640.32 492.13 L641.90 491.47 L643.48 490.80 L645.07 490.12 L646.65 489.43 L648.24 488.72 L649.82 488.01 L651.40 487.29 L652.99 486.56 L654.57 485.82 L656.16 485.06 L657.74 484.30 L659.32 483.54 L660.91 482.76 L662.49 481.97 L664.08 481.18 L665.66 480.37 L667.24 479.57 L668.83 478.75 L670.41 477.92 L672.00 477.09 L673.58 476.25 L675.16 475.41 L676.75 474.56 L678.33 473.70 L679.92 472.84 L681.50 471.97 L683.08 471.10 L684.67 470.22 L686.25 469.34 L687.84 468.45 L689.42 467.56 L691.00 466.66 L692.59 465.76 L694.17 464.86 L695.76 463.95 L697.34 463.04 L698.92 462.13 L700.51 461.22 L702.09 460.30 L703.68 459.38 L705.26 458.46 L706.84 457.54 L708.43 456.61 L710.01 455.69 L711.60 454.76 L713.18 453.84 L714.76 452.91 L716.35 451.98 L717.93 451.05 L719.52 450.13 L721.10 449.20 L722.68 448.27 L724.27 447.34 L725.85 446.42 L727.44 445.49 L729.02 444.56 L730.60 443.64 L732.19 442.71 L733.77 441.78 L735.36 440.86 L736.94 439.93 L738.52 439.01 L740.11 438.09 L741.69 437.17 L743.28 436.25 L744.86 435.33 L746.44 434.41 L748.03 433.49 L749.61 432.58 L751.20 431.66 L752.78 430.75 L754.36 429.84 L755.95 428.93 L757.53 428.02 L759.12 427.12 L760.70 426.21 L762.28 425.31 L763.87 424.41 L765.45 423.52 L767.04 422.62 L768.62 421.73 L770.20 420.84 L771.79 419.95 L773.37 419.06 L774.96 418.18 L776.54 417.30 L778.12 416.42 L779.71 415.55 L781.29 414.68 L782.88 413.81 L784.46 412.95 L786.04 412.08 L787.63 411.22 L789.21 410.37 L790.80 409.52 L792.38 408.67 L793.96 407.82 L795.55 406.98 L797.13 406.15 L798.72 405.31 L800.30 404.48 L801.88 403.66 L803.47 402.84 L805.05 402.02 L806.64 401.20 L808.22 400.40 L809.80 399.59 L811.39 398.79 L812.97 398.00 L814.56 397.21 L816.14 396.42 L817.72 395.64 L819.31 394.86 L820.89 394.09 L822.48 393.32 L824.06 392.56 L825.64 391.81 L827.23 391.06 L828.81 390.31 L830.40 389.57 L831.98 388.83 L833.56 388.10 L835.15 387.38 L836.73 386.65 L838.32 385.94 L839.90 385.23 L841.48 384.52 L843.07 383.82 L844.65 383.12 L846.24 382.43 L847.82 381.74 L849.40 381.06 L850.99 380.38 L852.57 379.70 L854.16 379.03 L855.74 378.36 L857.32 377.70 L858.91 377.04 L860.49 376.39 L862.08 375.74 L863.66 375.10 L865.24 374.46 L866.83 373.82 L868.41 373.19 L870.00 372.56 L871.58 371.93 L873.16 371.31 L874.75 370.69 L876.33 370.08 L877.92 369.47 L879.50 368.86 L881.08 368.26 L882.67 367.67 L884.25 367.07 L885.84 366.48 L887.42 365.90 L889.00 365.32 L890.59 364.74 L892.17 364.17 L893.76 363.61 L895.34 363.04 L896.92 362.49 L898.51 361.94 L900.09 361.39 L901.68 360.85 L903.26 360.31 L904.84 359.78 L906.43 359.26 L908.01 358.74 L909.60 358.23 L911.18 357.72 L912.76 357.22 L914.35 356.72 L915.93 356.23 L917.52 355.75 L919.10 355.27 L920.68 354.80 L922.27 354.34 L923.85 353.88 L925.44 353.43 L927.02 352.99 L928.60 352.55 L930.19 352.12 L931.77 351.70 L933.36 351.28 L934.94 350.87 L936.52 350.47 L938.11 350.07 L939.69 349.69 L941.28 349.31 L942.86 348.93 L944.44 348.57 L946.03 348.21 L947.61 347.86 L949.20 347.51 L950.78 347.18 L952.36 346.85 L953.95 346.53 L955.53 346.21 L957.12 345.91 L958.70 345.61 L960.28 345.32 L961.87 345.04 L963.45 344.76 L965.04 344.50 L966.62 344.24 L968.20 343.99 L969.79 343.75 L971.37 343.51 L972.96 343.29 L974.54 343.07 L976.12 342.86 L977.71 342.66 L979.29 342.47 L980.88 342.28 L982.46 342.11 L984.04 341.94 L985.63 341.78 L987.21 341.63 L988.80 341.49 L990.38 341.36 L991.96 341.23 L993.55 341.12 L995.13 341.01 L996.72 340.92 L998.30 340.83 L999.88 339.13 L1001.47 337.44 L1003.05 335.74 L1004.64 334.05 L1006.22 332.37 L1007.80 330.68 L1009.39 329.00 L1010.97 327.32 L1012.56 325.64 L1014.14 323.96 L1015.72 322.29 L1017.31 320.62 L1018.89 318.95 L1020.48 317.29 L1022.06 315.62 L1023.64 313.96 L1025.23 312.30 L1026.81 310.64 L1028.40 308.99 L1029.98 307.34 L1031.56 305.69 L1033.15 304.04 L1034.73 302.39 L1036.32 300.75 L1037.90 299.11 L1039.48 297.47 L1041.07 295.83 L1042.65 294.20 L1044.24 292.57 L1045.82 290.94 L1047.40 289.31 L1048.99 287.69 L1050.57 286.07 L1052.16 284.45 L1053.74 282.83 L1055.32 281.22 L1056.91 279.61 L1058.49 277.99 L1060.08 276.37 L1061.66 274.75 L1063.24 273.14 L1064.83 271.52 L1066.41 269.91 L1068.00 268.31 L1069.58 266.70 L1071.16 265.11 L1072.75 263.52 L1074.33 261.94 L1075.92 260.37 L1077.50 258.81 L1079.08 257.26 L1080.67 255.72 L1082.25 254.20 L1083.84 252.68 L1085.42 251.18 L1087.00 249.68 L1088.59 248.19 L1090.17 246.70 L1091.76 245.23 L1093.34 243.76 L1094.92 242.30 L1096.51 240.84 L1098.09 239.39 L1099.68 237.94 L1101.26 236.50 L1102.84 235.06 L1104.43 233.63 L1106.01 232.20 L1107.60 230.78 L1109.18 229.36 L1110.76 227.94 L1112.35 226.53 L1113.93 225.12 L1115.52 223.71 L1117.10 222.30 L1118.68 220.90 L1120.27 219.49 L1121.85 218.09 L1123.44 216.69 L1125.02 215.29 L1126.60 213.89 L1128.19 212.49 L1129.77 211.09 L1131.36 209.69 L1132.94 208.28 L1134.52 206.88 L1136.11 205.48 L1137.69 204.07 L1139.28 202.66 L1140.86 201.25 L1142.44 199.84 L1144.03 198.42 L1145.61 197.00 L1147.20 195.58 L1148.78 194.15 L1150.36 192.72 L1151.95 191.29 L1153.03 190.30" fill="none" stroke="#0000ff" stroke-width="9" stroke-linejoin="round" stroke-linecap="butt" shape-rendering="crispEdges"/>
<path d="M602.30 523.50 L603.88 522.25 L605.47 520.98 L607.05 519.71 L608.64 518.43 L610.22 517.15 L611.80 515.85 L613.39 514.55 L614.97 513.24 L616.56 511.92 L618.14 510.59 L619.72 509.26 L621.31 507.92 L622.89 506.58 L624.48 505.23 L626.06 503.87 L627.64 502.51 L629.23 501.14 L630.81 499.76 L632.40 498.38 L633.98 497.00 L635.56 495.61 L637.15 494.21 L638.73 492.81 L640.32 491.41 L641.90 490.00 L643.48 488.59 L645.07 487.17 L646.65 485.75 L648.24 484.33 L649.82 482.90 L651.40 481.47 L652.99 480.04 L654.57 478.61 L656.16 477.17 L657.74 475.73 L659.32 474.29 L660.91 472.84 L662.49 471.40 L664.08 469.95 L665.66 468.50 L667.24 467.05 L668.83 465.60 L670.41 464.15 L672.00 462.70 L673.58 461.25 L675.16 459.80 L676.75 458.35 L678.33 456.89 L679.92 455.44 L681.50 453.99 L683.08 452.54 L684.67 451.09 L686.25 449.65 L687.84 448.20 L689.42 446.76 L691.00 445.31 L692.59 443.87 L694.17 442.43 L695.76 441.00 L697.34 439.56 L698.92 438.13 L700.51 436.70 L702.09 435.28 L703.68 433.86 L705.26 432.44 L706.84 431.03 L708.43 429.62 L710.01 428.21 L711.60 426.81 L713.18 425.41 L714.76 424.02 L716.35 422.63 L717.93 421.25 L719.52 419.87 L721.10 418.50 L722.68 417.13 L724.27 415.77 L725.85 414.42 L727.44 413.07 L729.02 411.73 L730.60 410.39 L732.19 409.07 L733.77 407.74 L735.36 406.43 L736.94 405.12 L738.52 403.83 L740.11 402.53 L741.69 401.25 L743.28 399.98 L744.86 398.71 L746.44 397.45 L748.03 396.20 L749.61 394.96 L751.20 393.73 L752.78 392.51 L754.36 391.30 L755.95 390.09 L757.53 388.90 L759.12 387.72 L760.70 386.55 L762.28 385.38 L763.87 384.23 L765.45 383.09 L767.04 381.96 L768.62 380.85 L770.20 379.74 L771.79 378.65 L773.37 377.56 L774.96 376.49 L776.54 375.43 L778.12 374.39 L779.71 373.35 L781.29 372.33 L782.88 371.33 L784.46 370.33 L786.04 369.35 L787.63 368.38 L789.21 367.42 L790.80 366.48 L792.38 365.55 L793.96 364.63 L795.55 363.72 L797.13 362.83 L798.72 361.94 L800.30 361.07 L801.88 360.22 L803.47 359.37 L805.05 358.54 L806.64 357.72 L808.22 356.91 L809.80 356.12 L811.39 355.33 L812.97 354.56 L814.56 353.80 L816.14 353.06 L817.72 352.32 L819.31 351.60 L820.89 350.89 L822.48 350.19 L824.06 349.50 L825.64 348.83 L827.23 348.17 L828.81 347.51 L830.40 346.87 L831.98 346.25 L833.56 345.63 L835.15 345.03 L836.73 344.43 L838.32 343.85 L839.90 343.28 L841.48 342.73 L843.07 342.18 L844.65 341.65 L846.24 341.12 L847.82 340.61 L849.40 340.11 L850.99 339.62 L852.57 339.14 L854.16 338.68 L855.74 338.22 L857.32 337.78 L858.91 337.34 L860.49 336.92 L862.08 336.51 L863.66 336.11 L865.24 335.72 L866.83 335.35 L868.41 334.98 L870.00 334.63 L871.58 334.28 L873.16 333.95 L874.75 333.63 L876.33 333.31 L877.92 333.01 L879.50 332.72 L881.08 332.44 L882.67 332.18 L884.25 331.92 L885.84 331.67 L887.42 331.43 L889.00 331.21 L890.59 330.99 L892.17 330.79 L893.76 330.59 L895.34 330.41 L896.92 330.23 L898.51 330.07 L900.09 329.92 L901.68 329.78 L903.26 329.64 L904.84 329.52 L906.43 329.41 L908.01 329.31 L909.60 329.22 L911.18 329.13 L912.76 329.06 L914.35 329.00 L915.93 328.95 L917.52 328.91 L919.10 328.88 L920.68 328.86 L922.27 328.84 L923.85 328.84 L925.44 328.85 L927.02 328.87 L928.60 328.90 L930.19 328.93 L931.77 328.98 L933.36 329.04 L934.94 329.10 L936.52 329.18 L938.11 329.26 L939.69 329.36 L941.28 329.46 L942.86 329.58 L944.44 329.70 L946.03 329.83 L947.61 329.97 L949.20 330.13 L950.78 330.29 L952.36 330.46 L953.95 330.64 L955.53 330.82 L957.12 331.02 L958.70 331.23 L960.28 331.44 L961.87 331.67 L963.45 331.90 L965.04 332.14 L966.62 332.40 L968.20 332.66 L969.79 332.93 L971.37 333.20 L972.96 333.49 L974.54 333.79 L976.12 334.09 L977.71 334.41 L979.29 334.73 L980.88 335.06 L982.46 335.40 L984.04 335.75 L985.63 336.10 L987.21 336.47 L988.80 336.84 L990.38 337.22 L991.96 337.61 L993.55 338.01 L995.13 338.42 L996.72 338.84 L998.30 339.26 L999.88 338.03 L1001.47 336.79 L1003.05 335.55 L1004.64 334.31 L1006.22 333.06 L1007.80 331.81 L1009.39 330.56 L1010.97 329.30 L1012.56 328.03 L1014.14 326.77 L1015.72 325.49 L1017.31 324.22 L1018.89 322.93 L1020.48 321.61 L1022.06 320.26 L1023.64 318.88 L1025.23 317.49 L1026.81 316.09 L1028.40 314.70 L1029.98 313.33 L1031.56 311.98 L1033.15 310.66 L1034.73 309.39 L1036.32 308.17 L1037.90 307.02 L1039.48 305.94 L1041.07 304.93 L1042.65 303.97 L1044.24 303.06 L1045.82 302.19 L1047.40 301.35 L1048.99 300.54 L1050.57 299.75 L1052.16 298.98 L1053.74 298.21 L1055.32 297.45 L1056.91 296.69 L1058.49 295.92 L1060.08 295.13 L1061.66 294.32 L1063.24 293.49 L1064.83 292.62 L1066.41 291.71 L1068.00 290.76 L1069.58 289.75 L1071.16 288.68 L1072.75 287.56 L1074.33 286.40 L1075.92 285.20 L1077.50 283.96 L1079.08 282.70 L1080.67 281.42 L1082.25 280.14 L1083.84 278.85 L1085.42 277.57 L1087.00 276.29 L1088.59 275.04 L1090.17 273.81 L1091.76 272.62 L1093.34 271.45 L1094.92 270.30 L1096.51 269.16 L1098.09 268.03 L1099.68 266.91 L1101.26 265.79 L1102.84 264.67 L1104.43 263.56 L1106.01 262.44 L1107.60 261.32 L1109.18 260.19 L1110.76 259.05 L1112.35 257.91 L1113.93 256.74 L1115.52 255.56 L1117.10 254.37 L1118.68 253.17 L1120.27 251.95 L1121.85 250.72 L1123.44 249.49 L1125.02 248.25 L1126.60 247.00 L1128.19 245.75 L1129.77 244.51 L1131.36 243.26 L1132.94 242.01 L1134.52 240.77 L1136.11 239.54 L1137.69 238.31 L1139.28 237.09 L1140.86 235.88 L1142.44 234.69 L1144.03 233.50 L1145.61 232.32 L1147.20 231.14 L1148.78 229.97 L1150.36 228.80 L1151.95 227.63 L1153.53 226.47 L1155.12 225.31 L1156.70 224.16 L1158.28 223.00 L1159.87 221.85 L1161.45 220.71 L1163.04 219.56 L1164.62 218.42 L1166.20 217.28 L1167.79 216.14 L1169.37 215.00 L1170.96 213.87 L1172.54 212.73 L1174.12 211.60 L1175.71 210.47 L1177.29 209.34 L1178.88 208.21 L1180.46 207.10 L1182.04 206.00 L1183.63 204.90 L1185.21 203.80 L1186.80 202.71 L1188.38 201.61 L1189.96 200.52 L1191.55 199.42 L1193.13 198.31 L1194.72 197.20 L1196.30 196.08 L1197.88 194.95 L1199.47 193.81 L1201.05 192.65 L1202.64 191.49 L1204.22 190.32 L1204.25 190.30" fill="none" stroke="#000000" stroke-width="9" stroke-linejoin="round" stroke-linecap="butt" stroke-dasharray="33 6 17 7" shape-rendering="crispEdges"/>
<path d="M635.88 582.30 L637.15 579.85 L638.73 576.81 L640.32 573.78 L641.90 570.77 L643.48 567.79 L645.07 564.83 L646.65 561.91 L648.24 559.01 L649.82 556.13 L651.40 553.29 L652.99 550.47 L654.57 547.68 L656.16 544.92 L657.74 542.18 L659.32 539.47 L660.91 536.78 L662.49 534.12 L664.08 531.47 L665.66 528.86 L667.24 526.26 L668.83 523.69 L670.41 521.14 L672.00 518.61 L673.58 516.11 L675.16 513.62 L676.75 511.16 L678.33 508.71 L679.92 506.28 L681.50 503.87 L683.08 501.49 L684.67 499.12 L686.25 496.77 L687.84 494.44 L689.42 492.13 L691.00 489.84 L692.59 487.57 L694.17 485.32 L695.76 483.09 L697.34 480.87 L698.92 478.68 L700.51 476.51 L702.09 474.35 L703.68 472.22 L705.26 470.10 L706.84 468.01 L708.43 465.93 L710.01 463.87 L711.60 461.83 L713.18 459.81 L714.76 457.82 L716.35 455.84 L717.93 453.87 L719.52 451.93 L721.10 450.01 L722.68 448.11 L724.27 446.23 L725.85 444.36 L727.44 442.52 L729.02 440.69 L730.60 438.88 L732.19 437.10 L733.77 435.33 L735.36 433.58 L736.94 431.85 L738.52 430.14 L740.11 428.45 L741.69 426.78 L743.28 425.12 L744.86 423.49 L746.44 421.88 L748.03 420.28 L749.61 418.71 L751.20 417.15 L752.78 415.61 L754.36 414.09 L755.95 412.59 L757.53 411.11 L759.12 409.65 L760.70 408.21 L762.28 406.78 L763.87 405.38 L765.45 404.00 L767.04 402.63 L768.62 401.28 L770.20 399.95 L771.79 398.65 L773.37 397.36 L774.96 396.08 L776.54 394.83 L778.12 393.60 L779.71 392.39 L781.29 391.19 L782.88 390.01 L784.46 388.86 L786.04 387.72 L787.63 386.60 L789.21 385.49 L790.80 384.41 L792.38 383.34 L793.96 382.29 L795.55 381.26 L797.13 380.25 L798.72 379.25 L800.30 378.27 L801.88 377.31 L803.47 376.36 L805.05 375.43 L806.64 374.52 L808.22 373.63 L809.80 372.75 L811.39 371.88 L812.97 371.03 L814.56 370.20 L816.14 369.39 L817.72 368.59 L819.31 367.80 L820.89 367.03 L822.48 366.28 L824.06 365.54 L825.64 364.81 L827.23 364.10 L828.81 363.41 L830.40 362.73 L831.98 362.06 L833.56 361.41 L835.15 360.77 L836.73 360.14 L838.32 359.53 L839.90 358.93 L841.48 358.35 L843.07 357.78 L844.65 357.22 L846.24 356.67 L847.82 356.14 L849.40 355.62 L850.99 355.11 L852.57 354.62 L854.16 354.13 L855.74 353.66 L857.32 353.20 L858.91 352.76 L860.49 352.32 L862.08 351.90 L863.66 351.48 L865.24 351.08 L866.83 350.69 L868.41 350.31 L870.00 349.94 L871.58 349.59 L873.16 349.24 L874.75 348.90 L876.33 348.57 L877.92 348.26 L879.50 347.95 L881.08 347.65 L882.67 347.36 L884.25 347.08 L885.84 346.81 L887.42 346.55 L889.00 346.30 L890.59 346.06 L892.17 345.83 L893.76 345.60 L895.34 345.39 L896.92 345.18 L898.51 344.98 L900.09 344.78 L901.68 344.60 L903.26 344.42 L904.84 344.25 L906.43 344.09 L908.01 343.94 L909.60 343.79 L911.18 343.65 L912.76 343.52 L914.35 343.39 L915.93 343.27 L917.52 343.16 L919.10 343.05 L920.68 342.95 L922.27 342.85 L923.85 342.76 L925.44 342.68 L927.02 342.60 L928.60 342.52 L930.19 342.46 L931.77 342.39 L933.36 342.33 L934.94 342.28 L936.52 342.23 L938.11 342.19 L939.69 342.15 L941.28 342.11 L942.86 342.08 L944.44 342.05 L946.03 342.03 L947.61 342.01 L949.20 341.99 L950.78 341.98 L952.36 341.97 L953.95 341.96 L955.53 341.96 L957.12 341.95 L958.70 341.95 L960.28 341.96 L961.87 341.96 L963.45 341.97 L965.04 341.98 L966.62 341.99 L968.20 342.01 L969.79 342.02 L971.37 342.04 L972.96 342.06 L974.54 342.07 L976.12 342.09 L977.71 342.12 L979.29 342.14 L980.88 342.16 L982.46 342.18 L984.04 342.20 L985.63 342.23 L987.21 342.25 L988.80 342.27 L990.38 342.29 L991.96 342.32 L993.55 342.34 L995.13 342.36 L996.72 342.38 L998.30 342.40 L999.88 341.19 L1001.47 339.95 L1003.05 338.67 L1004.64 337.36 L1006.22 336.00 L1007.80 334.62 L1009.39 333.20 L1010.97 331.76 L1012.56 330.28 L1014.14 328.73 L1015.72 327.11 L1017.31 325.45 L1018.89 323.78 L1020.48 322.11 L1022.06 320.46 L1023.64 318.86 L1025.23 317.28 L1026.81 315.71 L1028.40 314.15 L1029.98 312.59 L1031.56 311.03 L1033.15 309.47 L1034.73 307.90 L1036.32 306.32 L1037.90 304.75 L1039.48 303.17 L1041.07 301.60 L1042.65 300.03 L1044.24 298.48 L1045.82 296.94 L1047.40 295.40 L1048.99 293.88 L1050.57 292.36 L1052.16 290.85 L1053.74 289.35 L1055.32 287.86 L1056.91 286.39 L1058.49 284.92 L1060.08 283.46 L1061.66 282.00 L1063.24 280.54 L1064.83 279.10 L1066.41 277.65 L1068.00 276.21 L1069.58 274.78 L1071.16 273.35 L1072.75 271.92 L1074.33 270.50 L1075.92 269.08 L1077.50 267.66 L1079.08 266.25 L1080.67 264.84 L1082.25 263.44 L1083.84 262.04 L1085.42 260.64 L1087.00 259.25 L1088.59 257.86 L1090.17 256.47 L1091.76 255.09 L1093.34 253.71 L1094.92 252.33 L1096.51 250.98 L1098.09 249.64 L1099.68 248.32 L1101.26 247.00 L1102.84 245.70 L1104.43 244.39 L1106.01 243.08 L1107.60 241.76 L1109.18 240.43 L1110.76 239.09 L1112.35 237.73 L1113.93 236.34 L1115.52 234.92 L1117.10 233.48 L1118.68 232.00 L1120.27 230.49 L1121.85 228.96 L1123.44 227.40 L1125.02 225.83 L1126.60 224.25 L1128.19 222.65 L1129.77 221.05 L1131.36 219.44 L1132.94 217.83 L1134.52 216.22 L1136.11 214.63 L1137.69 213.04 L1139.28 211.45 L1140.86 209.86 L1142.44 208.27 L1144.03 206.67 L1145.61 205.07 L1147.20 203.47 L1148.78 201.87 L1150.36 200.27 L1151.95 198.67 L1153.53 197.06 L1155.12 195.46 L1156.70 193.86 L1158.28 192.26 L1159.87 190.66 L1160.23 190.30" fill="none" stroke="#ff00ff" stroke-width="9" stroke-linejoin="round" stroke-linecap="butt" stroke-dasharray="9 6.6" shape-rendering="crispEdges"/>
<path d="M661.30 582.30 L662.49 580.84 L664.08 578.88 L665.66 576.92 L667.24 574.96 L668.83 572.99 L670.41 571.02 L672.00 569.04 L673.58 567.06 L675.16 565.07 L676.75 563.08 L678.33 561.09 L679.92 559.10 L681.50 557.10 L683.08 555.10 L684.67 553.10 L686.25 551.10 L687.84 549.10 L689.42 547.09 L691.00 545.08 L692.59 543.08 L694.17 541.07 L695.76 539.06 L697.34 537.05 L698.92 535.04 L700.51 533.04 L702.09 531.03 L703.68 529.03 L705.26 527.02 L706.84 525.02 L708.43 523.02 L710.01 521.03 L711.60 519.03 L713.18 517.05 L714.76 515.06 L716.35 513.08 L717.93 511.11 L719.52 509.14 L721.10 507.17 L722.68 505.21 L724.27 503.26 L725.85 501.32 L727.44 499.38 L729.02 497.45 L730.60 495.53 L732.19 493.61 L733.77 491.71 L735.36 489.81 L736.94 487.93 L738.52 486.05 L740.11 484.18 L741.69 482.33 L743.28 480.48 L744.86 478.65 L746.44 476.83 L748.03 475.02 L749.61 473.22 L751.20 471.44 L752.78 469.67 L754.36 467.91 L755.95 466.17 L757.53 464.44 L759.12 462.73 L760.70 461.03 L762.28 459.35 L763.87 457.68 L765.45 456.03 L767.04 454.40 L768.62 452.78 L770.20 451.18 L771.79 449.60 L773.37 448.04 L774.96 446.50 L776.54 444.97 L778.12 443.47 L779.71 441.98 L781.29 440.52 L782.88 439.08 L784.46 437.65 L786.04 436.25 L787.63 434.87 L789.21 433.51 L790.80 432.18 L792.38 430.86 L793.96 429.57 L795.55 428.29 L797.13 427.04 L798.72 425.81 L800.30 424.59 L801.88 423.40 L803.47 422.22 L805.05 421.07 L806.64 419.93 L808.22 418.81 L809.80 417.71 L811.39 416.63 L812.97 415.57 L814.56 414.52 L816.14 413.49 L817.72 412.48 L819.31 411.49 L820.89 410.51 L822.48 409.55 L824.06 408.60 L825.64 407.67 L827.23 406.76 L828.81 405.86 L830.40 404.98 L831.98 404.11 L833.56 403.26 L835.15 402.42 L836.73 401.59 L838.32 400.78 L839.90 399.99 L841.48 399.20 L843.07 398.43 L844.65 397.67 L846.24 396.93 L847.82 396.20 L849.40 395.48 L850.99 394.77 L852.57 394.07 L854.16 393.39 L855.74 392.72 L857.32 392.05 L858.91 391.40 L860.49 390.76 L862.08 390.13 L863.66 389.51 L865.24 388.90 L866.83 388.30 L868.41 387.71 L870.00 387.12 L871.58 386.55 L873.16 385.98 L874.75 385.43 L876.33 384.88 L877.92 384.33 L879.50 383.80 L881.08 383.27 L882.67 382.75 L884.25 382.24 L885.84 381.74 L887.42 381.24 L889.00 380.74 L890.59 380.26 L892.17 379.77 L893.76 379.30 L895.34 378.83 L896.92 378.36 L898.51 377.90 L900.09 377.44 L901.68 376.99 L903.26 376.54 L904.84 376.09 L906.43 375.66 L908.01 375.22 L909.60 374.79 L911.18 374.37 L912.76 373.95 L914.35 373.53 L915.93 373.12 L917.52 372.72 L919.10 372.32 L920.68 371.92 L922.27 371.53 L923.85 371.15 L925.44 370.77 L927.02 370.40 L928.60 370.03 L930.19 369.66 L931.77 369.31 L933.36 368.95 L934.94 368.61 L936.52 368.26 L938.11 367.93 L939.69 367.60 L941.28 367.27 L942.86 366.95 L944.44 366.64 L946.03 366.33 L947.61 366.03 L949.20 365.73 L950.78 365.44 L952.36 365.16 L953.95 364.88 L955.53 364.61 L957.12 364.34 L958.70 364.08 L960.28 363.82 L961.87 363.57 L963.45 363.33 L965.04 363.10 L966.62 362.87 L968.20 362.64 L969.79 362.42 L971.37 362.21 L972.96 362.01 L974.54 361.81 L976.12 361.62 L977.71 361.43 L979.29 361.26 L980.88 361.08 L982.46 360.92 L984.04 360.76 L985.63 360.61 L987.21 360.46 L988.80 360.33 L990.38 360.20 L991.96 360.07 L993.55 359.95 L995.13 359.84 L996.72 359.74 L998.30 359.64 L999.88 357.95 L1001.47 356.25 L1003.05 354.55 L1004.64 352.85 L1006.22 351.15 L1007.80 349.45 L1009.39 347.75 L1010.97 346.05 L1012.56 344.36 L1014.14 342.66 L1015.72 340.96 L1017.31 339.26 L1018.89 337.56 L1020.48 335.86 L1022.06 334.16 L1023.64 332.46 L1025.23 330.76 L1026.81 329.06 L1028.40 327.36 L1029.98 325.66 L1031.56 323.96 L1033.15 322.26 L1034.73 320.56 L1036.32 318.86 L1037.90 317.16 L1039.48 315.46 L1041.07 313.76 L1042.65 312.07 L1044.24 310.37 L1045.82 308.68 L1047.40 307.00 L1048.99 305.32 L1050.57 303.65 L1052.16 301.98 L1053.74 300.32 L1055.32 298.66 L1056.91 297.00 L1058.49 295.34 L1060.08 293.68 L1061.66 292.02 L1063.24 290.35 L1064.83 288.67 L1066.41 286.99 L1068.00 285.30 L1069.58 283.59 L1071.16 281.88 L1072.75 280.15 L1074.33 278.41 L1075.92 276.67 L1077.50 274.94 L1079.08 273.19 L1080.67 271.45 L1082.25 269.69 L1083.84 267.93 L1085.42 266.15 L1087.00 264.37 L1088.59 262.56 L1090.17 260.74 L1091.76 258.89 L1093.34 257.02 L1094.92 255.13 L1096.51 253.21 L1098.09 251.26 L1099.68 249.27 L1101.26 247.24 L1102.84 245.18 L1104.43 243.10 L1106.01 240.99 L1107.60 238.86 L1109.18 236.71 L1110.76 234.55 L1112.35 232.37 L1113.93 230.19 L1115.52 228.00 L1117.10 225.81 L1118.68 223.62 L1120.27 221.40 L1121.85 219.14 L1123.44 216.83 L1125.02 214.49 L1126.60 212.14 L1128.19 209.77 L1129.77 207.40 L1131.36 205.05 L1132.94 202.72 L1134.52 200.43 L1136.11 198.17 L1137.69 195.98 L1139.28 193.84 L1140.86 191.79 L1142.05 190.30" fill="none" stroke="#00ff00" stroke-width="9" stroke-linejoin="round" stroke-linecap="butt" shape-rendering="crispEdges"/>
<g font-family="'Liberation Sans', sans-serif" font-size="32" fill="#262626"><text x="603.00" y="626.2" text-anchor="middle">0</text>
<text x="595.5" y="595.70" text-anchor="end">1<tspan dx="2.6">0</tspan></text>
<text x="761.20" y="626.2" text-anchor="middle">2</text>
<text x="595.5" y="517.30" text-anchor="end">1<tspan dx="2.6">2</tspan></text>
<text x="919.40" y="626.2" text-anchor="middle">4</text>
<text x="595.5" y="438.90" text-anchor="end">1<tspan dx="2.6">4</tspan></text>
<text x="1077.60" y="626.2" text-anchor="middle">6</text>
<text x="595.5" y="360.50" text-anchor="end">1<tspan dx="2.6">6</tspan></text>
<text x="1235.80" y="626.2" text-anchor="middle">8</text>
<text x="595.5" y="282.10" text-anchor="end">1<tspan dx="2.6">8</tspan></text>
<text x="1394.00" y="626.2" text-anchor="middle">1<tspan dx="2.6">0</tspan></text>
<text x="595.5" y="203.70" text-anchor="end">2<tspan dx="2.6">0</tspan></text></g>
<rect x="226" y="50" width="1186" height="78" fill="#ffffff" stroke="#262626" stroke-width="2"/>
<line x1="237.60" y1="88.9" x2="356.60" y2="88.9" stroke="#ffff00" stroke-width="8"/>
<path transform="translate(364.80 76.90)" d="M0.3 9.8 C0.3 6.5 2.5 2.3 5 1.15 L10.7 1.1 C12.5 1.5 13.1 2.8 13.1 4.5 C13.1 7 12.2 10.5 11 13.5 C9.8 16 9.05 18 9.05 21 C9.05 23 10.2 24 12 24 C14.5 24 16.5 21.5 18.5 18.5 C20.3 16 21.2 13 21.2 9 L21.2 7.2 C20.2 6.6 19.3 6 19.3 4.5 C19.3 2 20.5 0.1 22.5 0.1 C24.2 0.1 24.9 2 24.9 4.5 C24.9 8 24.3 12 23.0 15 C21.5 19 19 23 16 25.5 C15 26 11 26 10 25.9 C6.5 25.5 5 23.5 5 20.5 C5 17 5.3 14 6.4 11 C7.4 8.5 8.2 6.5 8.2 3.5 C8.2 3.0 7.5 2.9 6.8 2.9 C5.0 3.5 3.9 5.2 3.5 7 L3.0 9.8 Z" fill="#000"/><text x="389.60" y="111.3" font-family="'Liberation Serif', serif" font-size="42" fill="#000" stroke="#000" stroke-width="0.6">0</text>
<line x1="435.20" y1="88.9" x2="554.20" y2="88.9" stroke="#ff0000" stroke-width="8" stroke-dasharray="32 31"/>
<path transform="translate(562.40 76.90)" d="M0.3 9.8 C0.3 6.5 2.5 2.3 5 1.15 L10.7 1.1 C12.5 1.5 13.1 2.8 13.1 4.5 C13.1 7 12.2 10.5 11 13.5 C9.8 16 9.05 18 9.05 21 C9.05 23 10.2 24 12 24 C14.5 24 16.5 21.5 18.5 18.5 C20.3 16 21.2 13 21.2 9 L21.2 7.2 C20.2 6.6 19.3 6 19.3 4.5 C19.3 2 20.5 0.1 22.5 0.1 C24.2 0.1 24.9 2 24.9 4.5 C24.9 8 24.3 12 23.0 15 C21.5 19 19 23 16 25.5 C15 26 11 26 10 25.9 C6.5 25.5 5 23.5 5 20.5 C5 17 5.3 14 6.4 11 C7.4 8.5 8.2 6.5 8.2 3.5 C8.2 3.0 7.5 2.9 6.8 2.9 C5.0 3.5 3.9 5.2 3.5 7 L3.0 9.8 Z" fill="#000"/><text x="587.20" y="111.3" font-family="'Liberation Serif', serif" font-size="42" fill="#000" stroke="#000" stroke-width="0.6">1</text>
<line x1="632.80" y1="88.9" x2="751.80" y2="88.9" stroke="#0000ff" stroke-width="8"/>
<path transform="translate(760.00 76.90)" d="M0.3 9.8 C0.3 6.5 2.5 2.3 5 1.15 L10.7 1.1 C12.5 1.5 13.1 2.8 13.1 4.5 C13.1 7 12.2 10.5 11 13.5 C9.8 16 9.05 18 9.05 21 C9.05 23 10.2 24 12 24 C14.5 24 16.5 21.5 18.5 18.5 C20.3 16 21.2 13 21.2 9 L21.2 7.2 C20.2 6.6 19.3 6 19.3 4.5 C19.3 2 20.5 0.1 22.5 0.1 C24.2 0.1 24.9 2 24.9 4.5 C24.9 8 24.3 12 23.0 15 C21.5 19 19 23 16 25.5 C15 26 11 26 10 25.9 C6.5 25.5 5 23.5 5 20.5 C5 17 5.3 14 6.4 11 C7.4 8.5 8.2 6.5 8.2 3.5 C8.2 3.0 7.5 2.9 6.8 2.9 C5.0 3.5 3.9 5.2 3.5 7 L3.0 9.8 Z" fill="#000"/><text x="784.80" y="111.3" font-family="'Liberation Serif', serif" font-size="42" fill="#000" stroke="#000" stroke-width="0.6">2</text>
<line x1="830.40" y1="88.9" x2="949.40" y2="88.9" stroke="#000000" stroke-width="8" stroke-dasharray="33 6 17 7"/>
<path transform="translate(957.60 76.90)" d="M0.3 9.8 C0.3 6.5 2.5 2.3 5 1.15 L10.7 1.1 C12.5 1.5 13.1 2.8 13.1 4.5 C13.1 7 12.2 10.5 11 13.5 C9.8 16 9.05 18 9.05 21 C9.05 23 10.2 24 12 24 C14.5 24 16.5 21.5 18.5 18.5 C20.3 16 21.2 13 21.2 9 L21.2 7.2 C20.2 6.6 19.3 6 19.3 4.5 C19.3 2 20.5 0.1 22.5 0.1 C24.2 0.1 24.9 2 24.9 4.5 C24.9 8 24.3 12 23.0 15 C21.5 19 19 23 16 25.5 C15 26 11 26 10 25.9 C6.5 25.5 5 23.5 5 20.5 C5 17 5.3 14 6.4 11 C7.4 8.5 8.2 6.5 8.2 3.5 C8.2 3.0 7.5 2.9 6.8 2.9 C5.0 3.5 3.9 5.2 3.5 7 L3.0 9.8 Z" fill="#000"/><text x="982.40" y="111.3" font-family="'Liberation Serif', serif" font-size="42" fill="#000" stroke="#000" stroke-width="0.6">3</text>
<line x1="1028.00" y1="88.9" x2="1147.00" y2="88.9" stroke="#ff00ff" stroke-width="8" stroke-dasharray="8.6 7.1"/>
<path transform="translate(1155.20 76.90)" d="M0.3 9.8 C0.3 6.5 2.5 2.3 5 1.15 L10.7 1.1 C12.5 1.5 13.1 2.8 13.1 4.5 C13.1 7 12.2 10.5 11 13.5 C9.8 16 9.05 18 9.05 21 C9.05 23 10.2 24 12 24 C14.5 24 16.5 21.5 18.5 18.5 C20.3 16 21.2 13 21.2 9 L21.2 7.2 C20.2 6.6 19.3 6 19.3 4.5 C19.3 2 20.5 0.1 22.5 0.1 C24.2 0.1 24.9 2 24.9 4.5 C24.9 8 24.3 12 23.0 15 C21.5 19 19 23 16 25.5 C15 26 11 26 10 25.9 C6.5 25.5 5 23.5 5 20.5 C5 17 5.3 14 6.4 11 C7.4 8.5 8.2 6.5 8.2 3.5 C8.2 3.0 7.5 2.9 6.8 2.9 C5.0 3.5 3.9 5.2 3.5 7 L3.0 9.8 Z" fill="#000"/><text x="1180.00" y="111.3" font-family="'Liberation Serif', serif" font-size="42" fill="#000" stroke="#000" stroke-width="0.6">4</text>
<line x1="1225.60" y1="88.9" x2="1344.60" y2="88.9" stroke="#00ff00" stroke-width="8"/>
<path transform="translate(1352.80 76.90)" d="M0.3 9.8 C0.3 6.5 2.5 2.3 5 1.15 L10.7 1.1 C12.5 1.5 13.1 2.8 13.1 4.5 C13.1 7 12.2 10.5 11 13.5 C9.8 16 9.05 18 9.05 21 C9.05 23 10.2 24 12 24 C14.5 24 16.5 21.5 18.5 18.5 C20.3 16 21.2 13 21.2 9 L21.2 7.2 C20.2 6.6 19.3 6 19.3 4.5 C19.3 2 20.5 0.1 22.5 0.1 C24.2 0.1 24.9 2 24.9 4.5 C24.9 8 24.3 12 23.0 15 C21.5 19 19 23 16 25.5 C15 26 11 26 10 25.9 C6.5 25.5 5 23.5 5 20.5 C5 17 5.3 14 6.4 11 C7.4 8.5 8.2 6.5 8.2 3.5 C8.2 3.0 7.5 2.9 6.8 2.9 C5.0 3.5 3.9 5.2 3.5 7 L3.0 9.8 Z" fill="#000"/><text x="1377.60" y="111.3" font-family="'Liberation Serif', serif" font-size="42" fill="#000" stroke="#000" stroke-width="0.6">5</text>
<text x="695.9" y="1149.8" font-family="'Liberation Serif', serif" fill="#262626" font-size="64" textLength="138" lengthAdjust="spacingAndGlyphs">Time</text>
<text x="854" y="1151.5" font-family="'Liberation Serif', serif" fill="#262626" font-size="70">(</text>
<text x="874" y="1150.8" font-family="'Liberation Serif', serif" fill="#262626" font-size="61">s</text>
<text x="899" y="1151.5" font-family="'Liberation Serif', serif" fill="#262626" font-size="70">)</text>
<text transform="translate(68 784) rotate(-90)" font-family="'Liberation Serif', serif" fill="#262626" font-size="63" textLength="215" lengthAdjust="spacingAndGlyphs">Veloctiy</text>
<path transform="translate(40.3 549) rotate(-90)" d="M0.3 9.8 C0.3 6.5 2.5 2.3 5 1.15 L10.7 1.1 C12.5 1.5 13.1 2.8 13.1 4.5 C13.1 7 12.2 10.5 11 13.5 C9.8 16 9.05 18 9.05 21 C9.05 23 10.2 24 12 24 C14.5 24 16.5 21.5 18.5 18.5 C20.3 16 21.2 13 21.2 9 L21.2 7.2 C20.2 6.6 19.3 6 19.3 4.5 C19.3 2 20.5 0.1 22.5 0.1 C24.2 0.1 24.9 2 24.9 4.5 C24.9 8 24.3 12 23.0 15 C21.5 19 19 23 16 25.5 C15 26 11 26 10 25.9 C6.5 25.5 5 23.5 5 20.5 C5 17 5.3 14 6.4 11 C7.4 8.5 8.2 6.5 8.2 3.5 C8.2 3.0 7.5 2.9 6.8 2.9 C5.0 3.5 3.9 5.2 3.5 7 L3.0 9.8 Z" fill="#262626"/>
<text transform="translate(77.3 525) rotate(-90)" font-family="'Liberation Serif', serif" fill="#262626" font-size="46" font-style="italic" textLength="16" lengthAdjust="spacingAndGlyphs">i</text>
<text transform="translate(69.5 502.1) rotate(-90)" font-family="'Liberation Serif', serif" fill="#262626" font-size="71">(</text>
<text transform="translate(68 478) rotate(-90)" font-family="'Liberation Serif', serif" fill="#262626" font-size="64" font-style="italic">t</text>
<text transform="translate(69.5 459.5) rotate(-90)" font-family="'Liberation Serif', serif" fill="#262626" font-size="71">)</text>
<text transform="translate(69.5 413.7) rotate(-90)" font-family="'Liberation Serif', serif" fill="#262626" font-size="71">(</text>
<text transform="translate(68 391.3) rotate(-90)" font-family="'Liberation Serif', serif" fill="#262626" font-size="63">m</text>
<text transform="translate(80 338.5) rotate(-90)" font-family="'Liberation Serif', serif" fill="#262626" font-size="88">/</text>
<text transform="translate(68 312.3) rotate(-90)" font-family="'Liberation Serif', serif" fill="#262626" font-size="60">s</text>
<text transform="translate(69.5 288.4) rotate(-90)" font-family="'Liberation Serif', serif" fill="#262626" font-size="71">)</text>
</svg>
</body></html>
